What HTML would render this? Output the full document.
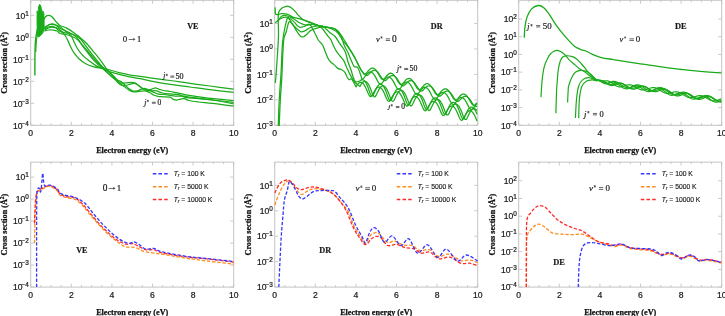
<!DOCTYPE html>
<html><head><meta charset="utf-8"><style>
html,body{margin:0;padding:0;background:#fff;width:725px;height:316px;overflow:hidden}
svg{display:block;will-change:transform}
.tk{font-family:"Liberation Sans",sans-serif;font-size:8.6px;fill:#1a1a1a;stroke:#1a1a1a;stroke-width:0.22px}
.ex{font-size:6.4px}
.ex2{font-size:5.5px}
.al{font-family:"Liberation Serif",serif;font-weight:bold;font-size:8.15px;fill:#111;stroke:#111;stroke-width:0.25px}
.an{font-family:"Liberation Serif",serif;font-size:8.4px;fill:#111}
.anb{font-family:"Liberation Serif",serif;font-weight:bold;font-size:8.8px;fill:#111}
.lg{font-family:"Liberation Sans",sans-serif;font-size:7.6px;fill:#111}
</style></head><body>
<svg width="725" height="316" viewBox="0 0 725 316">
<rect x="30.7" y="0.3" width="203" height="125" fill="none" stroke="#c4c4c4" stroke-width="1"/>
<path d="M30.7 125.3v-3.5M30.7 0.3v3.5M40.85 125.3v-2.0M40.85 0.3v2.0M51 125.3v-2.0M51 0.3v2.0M61.15 125.3v-2.0M61.15 0.3v2.0M71.3 125.3v-3.5M71.3 0.3v3.5M81.45 125.3v-2.0M81.45 0.3v2.0M91.6 125.3v-2.0M91.6 0.3v2.0M101.75 125.3v-2.0M101.75 0.3v2.0M111.9 125.3v-3.5M111.9 0.3v3.5M122.05 125.3v-2.0M122.05 0.3v2.0M132.2 125.3v-2.0M132.2 0.3v2.0M142.35 125.3v-2.0M142.35 0.3v2.0M152.5 125.3v-3.5M152.5 0.3v3.5M162.65 125.3v-2.0M162.65 0.3v2.0M172.8 125.3v-2.0M172.8 0.3v2.0M182.95 125.3v-2.0M182.95 0.3v2.0M193.1 125.3v-3.5M193.1 0.3v3.5M203.25 125.3v-2.0M203.25 0.3v2.0M213.4 125.3v-2.0M213.4 0.3v2.0M223.55 125.3v-2.0M223.55 0.3v2.0M233.7 125.3v-3.5M233.7 0.3v3.5M30.7 125.3h3.5M233.7 125.3h-3.5M30.7 103.3h3.5M233.7 103.3h-3.5M30.7 81.3h3.5M233.7 81.3h-3.5M30.7 59.3h3.5M233.7 59.3h-3.5M30.7 37.3h3.5M233.7 37.3h-3.5M30.7 15.3h3.5M233.7 15.3h-3.5" stroke="#c4c4c4" stroke-width="0.9" fill="none"/>
<text x="30.7" y="135.9" class="tk" text-anchor="middle">0</text>
<text x="71.3" y="135.9" class="tk" text-anchor="middle">2</text>
<text x="111.9" y="135.9" class="tk" text-anchor="middle">4</text>
<text x="152.5" y="135.9" class="tk" text-anchor="middle">6</text>
<text x="193.1" y="135.9" class="tk" text-anchor="middle">8</text>
<text x="233.7" y="135.9" class="tk" text-anchor="middle">10</text>
<text x="28.9" y="128.5" class="tk" text-anchor="end">10<tspan class="ex" dx="-0.9" dy="-3.0">−4</tspan></text>
<text x="28.9" y="106.5" class="tk" text-anchor="end">10<tspan class="ex" dx="-0.9" dy="-3.0">−3</tspan></text>
<text x="28.9" y="84.5" class="tk" text-anchor="end">10<tspan class="ex" dx="-0.9" dy="-3.0">−2</tspan></text>
<text x="28.9" y="62.5" class="tk" text-anchor="end">10<tspan class="ex" dx="-0.9" dy="-3.0">−1</tspan></text>
<text x="28.9" y="40.5" class="tk" text-anchor="end">10<tspan class="ex" dx="0" dy="-3.0">0</tspan></text>
<text x="28.9" y="18.5" class="tk" text-anchor="end">10<tspan class="ex" dx="0" dy="-3.0">1</tspan></text>
<text x="132.2" y="152.9" class="al" text-anchor="middle">Electron energy (eV)</text>
<text transform="translate(6.9 62.8) rotate(-90)" class="al" text-anchor="middle">Cross section (Å<tspan class="ex2" dy="-3">2</tspan><tspan dy="3">)</tspan></text>
<rect x="274.7" y="0.3" width="203" height="125" fill="none" stroke="#c4c4c4" stroke-width="1"/>
<path d="M274.7 125.3v-3.5M274.7 0.3v3.5M284.85 125.3v-2.0M284.85 0.3v2.0M295 125.3v-2.0M295 0.3v2.0M305.15 125.3v-2.0M305.15 0.3v2.0M315.3 125.3v-3.5M315.3 0.3v3.5M325.45 125.3v-2.0M325.45 0.3v2.0M335.6 125.3v-2.0M335.6 0.3v2.0M345.75 125.3v-2.0M345.75 0.3v2.0M355.9 125.3v-3.5M355.9 0.3v3.5M366.05 125.3v-2.0M366.05 0.3v2.0M376.2 125.3v-2.0M376.2 0.3v2.0M386.35 125.3v-2.0M386.35 0.3v2.0M396.5 125.3v-3.5M396.5 0.3v3.5M406.65 125.3v-2.0M406.65 0.3v2.0M416.8 125.3v-2.0M416.8 0.3v2.0M426.95 125.3v-2.0M426.95 0.3v2.0M437.1 125.3v-3.5M437.1 0.3v3.5M447.25 125.3v-2.0M447.25 0.3v2.0M457.4 125.3v-2.0M457.4 0.3v2.0M467.55 125.3v-2.0M467.55 0.3v2.0M477.7 125.3v-3.5M477.7 0.3v3.5M274.7 125.3h3.5M477.7 125.3h-3.5M274.7 99.85h3.5M477.7 99.85h-3.5M274.7 74.4h3.5M477.7 74.4h-3.5M274.7 48.95h3.5M477.7 48.95h-3.5M274.7 23.5h3.5M477.7 23.5h-3.5" stroke="#c4c4c4" stroke-width="0.9" fill="none"/>
<text x="274.7" y="135.9" class="tk" text-anchor="middle">0</text>
<text x="315.3" y="135.9" class="tk" text-anchor="middle">2</text>
<text x="355.9" y="135.9" class="tk" text-anchor="middle">4</text>
<text x="396.5" y="135.9" class="tk" text-anchor="middle">6</text>
<text x="437.1" y="135.9" class="tk" text-anchor="middle">8</text>
<text x="477.7" y="135.9" class="tk" text-anchor="middle">10</text>
<text x="272.9" y="128.5" class="tk" text-anchor="end">10<tspan class="ex" dx="-0.9" dy="-3.0">−3</tspan></text>
<text x="272.9" y="103.05" class="tk" text-anchor="end">10<tspan class="ex" dx="-0.9" dy="-3.0">−2</tspan></text>
<text x="272.9" y="77.6" class="tk" text-anchor="end">10<tspan class="ex" dx="-0.9" dy="-3.0">−1</tspan></text>
<text x="272.9" y="52.15" class="tk" text-anchor="end">10<tspan class="ex" dx="0" dy="-3.0">0</tspan></text>
<text x="272.9" y="26.7" class="tk" text-anchor="end">10<tspan class="ex" dx="0" dy="-3.0">1</tspan></text>
<text x="376.2" y="152.9" class="al" text-anchor="middle">Electron energy (eV)</text>
<text transform="translate(250.9 62.8) rotate(-90)" class="al" text-anchor="middle">Cross section (Å<tspan class="ex2" dy="-3">2</tspan><tspan dy="3">)</tspan></text>
<rect x="518.7" y="0.3" width="203" height="125" fill="none" stroke="#c4c4c4" stroke-width="1"/>
<path d="M518.7 125.3v-3.5M518.7 0.3v3.5M528.85 125.3v-2.0M528.85 0.3v2.0M539 125.3v-2.0M539 0.3v2.0M549.15 125.3v-2.0M549.15 0.3v2.0M559.3 125.3v-3.5M559.3 0.3v3.5M569.45 125.3v-2.0M569.45 0.3v2.0M579.6 125.3v-2.0M579.6 0.3v2.0M589.75 125.3v-2.0M589.75 0.3v2.0M599.9 125.3v-3.5M599.9 0.3v3.5M610.05 125.3v-2.0M610.05 0.3v2.0M620.2 125.3v-2.0M620.2 0.3v2.0M630.35 125.3v-2.0M630.35 0.3v2.0M640.5 125.3v-3.5M640.5 0.3v3.5M650.65 125.3v-2.0M650.65 0.3v2.0M660.8 125.3v-2.0M660.8 0.3v2.0M670.95 125.3v-2.0M670.95 0.3v2.0M681.1 125.3v-3.5M681.1 0.3v3.5M691.25 125.3v-2.0M691.25 0.3v2.0M701.4 125.3v-2.0M701.4 0.3v2.0M711.55 125.3v-2.0M711.55 0.3v2.0M721.7 125.3v-3.5M721.7 0.3v3.5M518.7 125.3h3.5M721.7 125.3h-3.5M518.7 107.58h3.5M721.7 107.58h-3.5M518.7 89.86h3.5M721.7 89.86h-3.5M518.7 72.14h3.5M721.7 72.14h-3.5M518.7 54.42h3.5M721.7 54.42h-3.5M518.7 36.7h3.5M721.7 36.7h-3.5M518.7 18.98h3.5M721.7 18.98h-3.5" stroke="#c4c4c4" stroke-width="0.9" fill="none"/>
<text x="518.7" y="135.9" class="tk" text-anchor="middle">0</text>
<text x="559.3" y="135.9" class="tk" text-anchor="middle">2</text>
<text x="599.9" y="135.9" class="tk" text-anchor="middle">4</text>
<text x="640.5" y="135.9" class="tk" text-anchor="middle">6</text>
<text x="681.1" y="135.9" class="tk" text-anchor="middle">8</text>
<text x="721.7" y="135.9" class="tk" text-anchor="middle">10</text>
<text x="516.9" y="128.5" class="tk" text-anchor="end">10<tspan class="ex" dx="-0.9" dy="-3.0">−4</tspan></text>
<text x="516.9" y="110.78" class="tk" text-anchor="end">10<tspan class="ex" dx="-0.9" dy="-3.0">−3</tspan></text>
<text x="516.9" y="93.06" class="tk" text-anchor="end">10<tspan class="ex" dx="-0.9" dy="-3.0">−2</tspan></text>
<text x="516.9" y="75.34" class="tk" text-anchor="end">10<tspan class="ex" dx="-0.9" dy="-3.0">−1</tspan></text>
<text x="516.9" y="57.62" class="tk" text-anchor="end">10<tspan class="ex" dx="0" dy="-3.0">0</tspan></text>
<text x="516.9" y="39.9" class="tk" text-anchor="end">10<tspan class="ex" dx="0" dy="-3.0">1</tspan></text>
<text x="516.9" y="22.18" class="tk" text-anchor="end">10<tspan class="ex" dx="0" dy="-3.0">2</tspan></text>
<text x="620.2" y="152.9" class="al" text-anchor="middle">Electron energy (eV)</text>
<text transform="translate(494.9 62.8) rotate(-90)" class="al" text-anchor="middle">Cross section (Å<tspan class="ex2" dy="-3">2</tspan><tspan dy="3">)</tspan></text>
<rect x="30.7" y="162.1" width="203" height="125" fill="none" stroke="#c4c4c4" stroke-width="1"/>
<path d="M30.7 287.1v-3.5M30.7 162.1v3.5M40.85 287.1v-2.0M40.85 162.1v2.0M51 287.1v-2.0M51 162.1v2.0M61.15 287.1v-2.0M61.15 162.1v2.0M71.3 287.1v-3.5M71.3 162.1v3.5M81.45 287.1v-2.0M81.45 162.1v2.0M91.6 287.1v-2.0M91.6 162.1v2.0M101.75 287.1v-2.0M101.75 162.1v2.0M111.9 287.1v-3.5M111.9 162.1v3.5M122.05 287.1v-2.0M122.05 162.1v2.0M132.2 287.1v-2.0M132.2 162.1v2.0M142.35 287.1v-2.0M142.35 162.1v2.0M152.5 287.1v-3.5M152.5 162.1v3.5M162.65 287.1v-2.0M162.65 162.1v2.0M172.8 287.1v-2.0M172.8 162.1v2.0M182.95 287.1v-2.0M182.95 162.1v2.0M193.1 287.1v-3.5M193.1 162.1v3.5M203.25 287.1v-2.0M203.25 162.1v2.0M213.4 287.1v-2.0M213.4 162.1v2.0M223.55 287.1v-2.0M223.55 162.1v2.0M233.7 287.1v-3.5M233.7 162.1v3.5M30.7 287.1h3.5M233.7 287.1h-3.5M30.7 265.1h3.5M233.7 265.1h-3.5M30.7 243.1h3.5M233.7 243.1h-3.5M30.7 221.1h3.5M233.7 221.1h-3.5M30.7 199.1h3.5M233.7 199.1h-3.5M30.7 177.1h3.5M233.7 177.1h-3.5" stroke="#c4c4c4" stroke-width="0.9" fill="none"/>
<text x="30.7" y="297.7" class="tk" text-anchor="middle">0</text>
<text x="71.3" y="297.7" class="tk" text-anchor="middle">2</text>
<text x="111.9" y="297.7" class="tk" text-anchor="middle">4</text>
<text x="152.5" y="297.7" class="tk" text-anchor="middle">6</text>
<text x="193.1" y="297.7" class="tk" text-anchor="middle">8</text>
<text x="233.7" y="297.7" class="tk" text-anchor="middle">10</text>
<text x="28.9" y="290.3" class="tk" text-anchor="end">10<tspan class="ex" dx="-0.9" dy="-3.0">−4</tspan></text>
<text x="28.9" y="268.3" class="tk" text-anchor="end">10<tspan class="ex" dx="-0.9" dy="-3.0">−3</tspan></text>
<text x="28.9" y="246.3" class="tk" text-anchor="end">10<tspan class="ex" dx="-0.9" dy="-3.0">−2</tspan></text>
<text x="28.9" y="224.3" class="tk" text-anchor="end">10<tspan class="ex" dx="-0.9" dy="-3.0">−1</tspan></text>
<text x="28.9" y="202.3" class="tk" text-anchor="end">10<tspan class="ex" dx="0" dy="-3.0">0</tspan></text>
<text x="28.9" y="180.3" class="tk" text-anchor="end">10<tspan class="ex" dx="0" dy="-3.0">1</tspan></text>
<text x="132.2" y="314.7" class="al" text-anchor="middle">Electron energy (eV)</text>
<text transform="translate(6.9 224.6) rotate(-90)" class="al" text-anchor="middle">Cross section (Å<tspan class="ex2" dy="-3">2</tspan><tspan dy="3">)</tspan></text>
<rect x="274.7" y="162.1" width="203" height="125" fill="none" stroke="#c4c4c4" stroke-width="1"/>
<path d="M274.7 287.1v-3.5M274.7 162.1v3.5M284.85 287.1v-2.0M284.85 162.1v2.0M295 287.1v-2.0M295 162.1v2.0M305.15 287.1v-2.0M305.15 162.1v2.0M315.3 287.1v-3.5M315.3 162.1v3.5M325.45 287.1v-2.0M325.45 162.1v2.0M335.6 287.1v-2.0M335.6 162.1v2.0M345.75 287.1v-2.0M345.75 162.1v2.0M355.9 287.1v-3.5M355.9 162.1v3.5M366.05 287.1v-2.0M366.05 162.1v2.0M376.2 287.1v-2.0M376.2 162.1v2.0M386.35 287.1v-2.0M386.35 162.1v2.0M396.5 287.1v-3.5M396.5 162.1v3.5M406.65 287.1v-2.0M406.65 162.1v2.0M416.8 287.1v-2.0M416.8 162.1v2.0M426.95 287.1v-2.0M426.95 162.1v2.0M437.1 287.1v-3.5M437.1 162.1v3.5M447.25 287.1v-2.0M447.25 162.1v2.0M457.4 287.1v-2.0M457.4 162.1v2.0M467.55 287.1v-2.0M467.55 162.1v2.0M477.7 287.1v-3.5M477.7 162.1v3.5M274.7 287.1h3.5M477.7 287.1h-3.5M274.7 261.65h3.5M477.7 261.65h-3.5M274.7 236.2h3.5M477.7 236.2h-3.5M274.7 210.75h3.5M477.7 210.75h-3.5M274.7 185.3h3.5M477.7 185.3h-3.5" stroke="#c4c4c4" stroke-width="0.9" fill="none"/>
<text x="274.7" y="297.7" class="tk" text-anchor="middle">0</text>
<text x="315.3" y="297.7" class="tk" text-anchor="middle">2</text>
<text x="355.9" y="297.7" class="tk" text-anchor="middle">4</text>
<text x="396.5" y="297.7" class="tk" text-anchor="middle">6</text>
<text x="437.1" y="297.7" class="tk" text-anchor="middle">8</text>
<text x="477.7" y="297.7" class="tk" text-anchor="middle">10</text>
<text x="272.9" y="290.3" class="tk" text-anchor="end">10<tspan class="ex" dx="-0.9" dy="-3.0">−3</tspan></text>
<text x="272.9" y="264.85" class="tk" text-anchor="end">10<tspan class="ex" dx="-0.9" dy="-3.0">−2</tspan></text>
<text x="272.9" y="239.4" class="tk" text-anchor="end">10<tspan class="ex" dx="-0.9" dy="-3.0">−1</tspan></text>
<text x="272.9" y="213.95" class="tk" text-anchor="end">10<tspan class="ex" dx="0" dy="-3.0">0</tspan></text>
<text x="272.9" y="188.5" class="tk" text-anchor="end">10<tspan class="ex" dx="0" dy="-3.0">1</tspan></text>
<text x="376.2" y="314.7" class="al" text-anchor="middle">Electron energy (eV)</text>
<text transform="translate(250.9 224.6) rotate(-90)" class="al" text-anchor="middle">Cross section (Å<tspan class="ex2" dy="-3">2</tspan><tspan dy="3">)</tspan></text>
<rect x="518.7" y="162.1" width="203" height="125" fill="none" stroke="#c4c4c4" stroke-width="1"/>
<path d="M518.7 287.1v-3.5M518.7 162.1v3.5M528.85 287.1v-2.0M528.85 162.1v2.0M539 287.1v-2.0M539 162.1v2.0M549.15 287.1v-2.0M549.15 162.1v2.0M559.3 287.1v-3.5M559.3 162.1v3.5M569.45 287.1v-2.0M569.45 162.1v2.0M579.6 287.1v-2.0M579.6 162.1v2.0M589.75 287.1v-2.0M589.75 162.1v2.0M599.9 287.1v-3.5M599.9 162.1v3.5M610.05 287.1v-2.0M610.05 162.1v2.0M620.2 287.1v-2.0M620.2 162.1v2.0M630.35 287.1v-2.0M630.35 162.1v2.0M640.5 287.1v-3.5M640.5 162.1v3.5M650.65 287.1v-2.0M650.65 162.1v2.0M660.8 287.1v-2.0M660.8 162.1v2.0M670.95 287.1v-2.0M670.95 162.1v2.0M681.1 287.1v-3.5M681.1 162.1v3.5M691.25 287.1v-2.0M691.25 162.1v2.0M701.4 287.1v-2.0M701.4 162.1v2.0M711.55 287.1v-2.0M711.55 162.1v2.0M721.7 287.1v-3.5M721.7 162.1v3.5M518.7 287.1h3.5M721.7 287.1h-3.5M518.7 269.38h3.5M721.7 269.38h-3.5M518.7 251.66h3.5M721.7 251.66h-3.5M518.7 233.94h3.5M721.7 233.94h-3.5M518.7 216.22h3.5M721.7 216.22h-3.5M518.7 198.5h3.5M721.7 198.5h-3.5M518.7 180.78h3.5M721.7 180.78h-3.5" stroke="#c4c4c4" stroke-width="0.9" fill="none"/>
<text x="518.7" y="297.7" class="tk" text-anchor="middle">0</text>
<text x="559.3" y="297.7" class="tk" text-anchor="middle">2</text>
<text x="599.9" y="297.7" class="tk" text-anchor="middle">4</text>
<text x="640.5" y="297.7" class="tk" text-anchor="middle">6</text>
<text x="681.1" y="297.7" class="tk" text-anchor="middle">8</text>
<text x="721.7" y="297.7" class="tk" text-anchor="middle">10</text>
<text x="516.9" y="290.3" class="tk" text-anchor="end">10<tspan class="ex" dx="-0.9" dy="-3.0">−4</tspan></text>
<text x="516.9" y="272.58" class="tk" text-anchor="end">10<tspan class="ex" dx="-0.9" dy="-3.0">−3</tspan></text>
<text x="516.9" y="254.86" class="tk" text-anchor="end">10<tspan class="ex" dx="-0.9" dy="-3.0">−2</tspan></text>
<text x="516.9" y="237.14" class="tk" text-anchor="end">10<tspan class="ex" dx="-0.9" dy="-3.0">−1</tspan></text>
<text x="516.9" y="219.42" class="tk" text-anchor="end">10<tspan class="ex" dx="0" dy="-3.0">0</tspan></text>
<text x="516.9" y="201.7" class="tk" text-anchor="end">10<tspan class="ex" dx="0" dy="-3.0">1</tspan></text>
<text x="516.9" y="183.98" class="tk" text-anchor="end">10<tspan class="ex" dx="0" dy="-3.0">2</tspan></text>
<text x="620.2" y="314.7" class="al" text-anchor="middle">Electron energy (eV)</text>
<text transform="translate(494.9 224.6) rotate(-90)" class="al" text-anchor="middle">Cross section (Å<tspan class="ex2" dy="-3">2</tspan><tspan dy="3">)</tspan></text>
<path d="M37.2 33.0L37.0 20.0L37.1 11.0L37.9 13.5L38.6 6.5L39.7 4.2L40.7 5.8L41.4 8.5L42.4 12.2L43.5 11.6L43.9 14.2L44.1 20.0L44.2 28.0L43.6 31.6L41.6 34.5L39.6 36.5L38.2 37.0Z" fill="#1aab1a" stroke="#1aab1a" stroke-width="0.9"/>
<path d="M34.9 75.5C34.9 73.2 34.9 65.9 34.9 62.0C34.9 58.1 34.9 55.3 35.0 52.0C35.1 48.7 35.2 44.8 35.4 42.0C35.6 39.2 35.9 37.2 36.3 35.0C36.6 32.8 37.3 30.0 37.5 29.0" fill="none" stroke="#1aab1a" stroke-width="1.4" stroke-linejoin="round"/>
<path d="M35.8 52.0C35.9 50.3 36.1 44.7 36.3 42.0C36.5 39.3 36.8 37.8 37.2 36.0C37.6 34.2 38.3 31.8 38.5 31.0" fill="none" stroke="#1aab1a" stroke-width="1.1" stroke-linejoin="round"/>
<path d="M44.0 19.5C44.3 19.0 45.0 17.2 45.7 16.5C46.5 15.8 47.5 15.3 48.5 15.3C49.5 15.3 50.4 15.6 51.4 16.3C52.4 17.0 53.2 18.2 54.2 19.3C55.2 20.4 56.2 22.0 57.2 23.0C58.2 24.0 58.5 24.7 60.0 25.5C61.5 26.3 64.2 26.8 66.3 27.9C68.4 29.0 70.6 30.4 72.7 31.9C74.8 33.4 76.6 34.6 79.0 36.6C81.4 38.6 84.3 40.9 86.9 43.7C89.5 46.5 92.4 50.3 94.8 53.2C97.2 56.1 99.0 58.3 101.1 61.1C103.2 63.9 105.3 67.3 107.5 70.0C109.7 72.7 112.1 75.0 114.2 77.2C116.3 79.4 118.3 81.8 120.0 83.4C121.7 85.0 123.1 85.7 124.6 86.8C126.1 87.9 127.6 89.3 129.1 90.2C130.6 91.1 132.0 91.7 133.7 91.9C135.4 92.1 137.5 91.6 139.4 91.4C141.3 91.2 143.4 90.6 145.1 90.8C146.8 91.0 148.1 91.8 149.6 92.5C151.1 93.2 152.7 94.6 154.2 95.3C155.7 96.0 157.2 96.2 158.7 96.5C160.2 96.8 161.4 96.7 163.3 96.8C165.2 96.9 168.4 96.8 170.0 97.2C171.6 97.6 171.7 98.6 172.8 99.1C173.9 99.6 175.3 100.0 176.6 100.0C177.9 100.0 179.1 99.3 180.4 99.1C181.7 98.9 182.8 98.4 184.2 98.6C185.6 98.8 186.6 99.9 189.0 100.5C191.4 101.1 194.6 101.5 198.5 102.0C202.4 102.5 206.8 102.7 212.7 103.4C218.5 104.1 230.1 105.7 233.6 106.2" fill="none" stroke="#1aab1a" stroke-width="1.25" stroke-linejoin="round"/>
<path d="M44.5 28.0C45.2 27.5 47.4 25.7 48.5 25.0C49.6 24.3 50.3 24.1 51.4 24.0C52.5 23.9 53.5 23.8 54.9 24.5C56.3 25.2 58.1 27.1 60.0 28.2C61.9 29.3 64.0 30.0 66.0 31.0C68.0 32.0 70.4 33.2 72.0 34.0C73.6 34.8 74.4 34.7 75.8 35.5C77.2 36.3 79.0 37.4 80.6 39.0C82.2 40.6 83.7 43.2 85.3 45.3C86.9 47.4 88.2 49.2 90.1 51.6C91.9 54.0 94.3 57.0 96.4 59.6C98.5 62.2 100.8 65.3 102.7 67.5C104.6 69.7 106.1 71.2 108.0 73.0C109.9 74.8 112.0 77.2 114.0 78.5C116.0 79.8 118.4 80.3 120.0 81.1C121.6 81.9 122.1 82.3 123.4 83.4C124.7 84.5 126.5 86.7 128.0 87.9C129.5 89.1 131.0 90.3 132.5 90.8C134.0 91.3 135.6 91.1 137.1 90.8C138.6 90.5 140.3 89.5 141.6 89.1C142.9 88.7 143.8 88.3 145.1 88.5C146.4 88.7 148.1 89.5 149.6 90.2C151.1 90.9 152.7 91.8 154.2 92.5C155.7 93.2 157.2 93.9 158.7 94.2C160.2 94.5 161.4 94.3 163.3 94.5C165.2 94.7 167.6 95.0 170.0 95.3C172.4 95.6 175.2 96.0 177.6 96.2C180.0 96.4 181.5 96.0 184.2 96.2C186.9 96.5 188.9 97.1 193.7 97.7C198.4 98.3 206.0 99.0 212.7 100.0C219.3 101.0 230.1 103.2 233.6 103.8" fill="none" stroke="#1aab1a" stroke-width="1.25" stroke-linejoin="round"/>
<path d="M44.5 30.0C45.2 29.7 47.2 28.5 48.5 28.0C49.8 27.5 50.8 27.0 52.0 27.0C53.2 27.0 54.7 27.3 56.0 28.0C57.3 28.7 58.3 30.6 60.0 31.4C61.7 32.2 63.9 32.5 66.0 33.0C68.1 33.5 70.8 33.6 72.7 34.5C74.6 35.4 75.8 36.4 77.4 38.2C79.0 40.0 80.6 43.1 82.2 45.3C83.8 47.5 85.1 49.2 86.9 51.6C88.7 54.0 91.1 57.2 93.2 59.6C95.3 62.0 97.8 64.2 99.6 65.9C101.4 67.6 102.6 68.5 104.3 70.0C106.0 71.5 108.2 73.4 110.0 75.0C111.8 76.6 113.3 77.9 115.0 79.5C116.7 81.1 118.4 83.5 120.0 84.5C121.6 85.5 123.1 85.7 124.6 85.7C126.1 85.7 127.6 84.9 129.1 84.5C130.6 84.1 132.4 83.4 133.7 83.4C135.0 83.4 135.8 83.8 137.1 84.5C138.4 85.2 140.1 87.0 141.6 87.9C143.1 88.9 144.7 89.7 146.2 90.2C147.7 90.7 149.1 90.7 150.8 90.8C152.5 90.9 154.7 90.5 156.4 90.8C158.1 91.1 159.5 92.0 161.0 92.5C162.5 93.0 164.1 93.4 165.6 93.6C167.1 93.8 167.7 93.7 170.0 93.9C172.3 94.1 176.8 94.2 179.5 94.8C182.2 95.4 182.9 97.1 186.1 97.7C189.3 98.3 193.3 98.1 198.5 98.6C203.7 99.1 211.7 99.9 217.5 100.5C223.3 101.1 230.9 102.1 233.6 102.4" fill="none" stroke="#1aab1a" stroke-width="1.25" stroke-linejoin="round"/>
<path d="M44.5 31.0C45.2 30.8 47.1 30.2 48.5 30.0C49.9 29.8 51.4 29.8 52.8 30.0C54.2 30.2 55.9 30.4 57.1 31.0C58.3 31.6 58.5 32.9 60.0 33.5C61.5 34.1 64.0 34.0 66.0 34.5C68.0 35.0 70.0 35.6 72.0 36.5C74.0 37.4 76.0 38.2 78.0 40.0C80.0 41.8 82.0 44.7 84.0 47.0C86.0 49.3 88.0 51.7 90.0 54.0C92.0 56.3 94.0 58.9 96.0 61.0C98.0 63.1 100.0 64.8 102.0 66.5C104.0 68.2 106.0 69.3 108.0 71.0C110.0 72.7 112.0 74.5 114.0 76.5C116.0 78.5 118.0 81.8 120.0 82.8C122.0 83.8 123.8 82.9 125.7 82.8C127.6 82.7 129.9 82.3 131.4 82.3C132.9 82.3 133.7 82.3 134.8 82.8C135.9 83.3 136.9 84.1 138.2 85.1C139.5 86.0 141.3 87.7 142.8 88.5C144.3 89.3 145.8 90.1 147.3 90.2C148.8 90.3 150.6 89.5 151.9 89.1C153.2 88.7 154.2 87.9 155.3 87.9C156.4 87.9 157.4 88.7 158.7 89.1C160.0 89.5 161.4 90.1 163.3 90.5C165.2 90.9 167.3 91.0 170.0 91.5C172.7 92.0 176.3 92.8 179.5 93.4C182.7 94.0 184.2 94.5 189.0 95.3C193.8 96.1 200.6 97.2 208.0 98.1C215.4 99.0 229.3 100.1 233.6 100.5" fill="none" stroke="#1aab1a" stroke-width="1.25" stroke-linejoin="round"/>
<path d="M44.5 27.5C45.4 27.0 48.1 24.9 50.0 24.5C51.9 24.1 54.3 24.6 56.0 25.0C57.7 25.4 58.3 25.7 60.0 26.8C61.7 27.9 64.5 30.4 66.3 31.9C68.1 33.4 69.8 34.1 71.1 35.8C72.4 37.5 73.2 40.1 74.2 42.2C75.2 44.3 76.1 46.4 77.4 48.5C78.7 50.6 80.4 52.8 82.2 54.8C84.0 56.8 86.1 58.4 88.5 60.3C90.9 62.1 93.8 64.4 96.4 65.9C99.0 67.4 102.1 68.1 104.3 69.1C106.5 70.0 107.0 70.7 109.5 71.6C112.0 72.5 115.3 73.4 119.0 74.3C122.7 75.2 128.1 76.5 131.6 77.2C135.1 77.9 136.9 78.1 140.0 78.7C143.1 79.3 145.0 79.9 150.0 80.8C155.0 81.7 163.3 83.3 170.0 84.3C176.7 85.3 183.3 86.1 190.0 87.0C196.7 87.9 202.7 88.8 210.0 89.7C217.3 90.6 229.7 92.0 233.6 92.4" fill="none" stroke="#1aab1a" stroke-width="1.25" stroke-linejoin="round"/>
<path d="M44.5 29.0C45.4 28.6 48.1 26.8 50.0 26.5C51.9 26.2 54.3 26.9 56.0 27.5C57.7 28.1 58.5 28.6 60.0 29.8C61.5 31.1 63.4 33.2 64.7 35.0C66.0 36.8 66.8 38.5 67.9 40.6C69.0 42.7 70.0 45.6 71.1 47.7C72.1 49.8 72.9 51.4 74.2 53.2C75.5 55.1 77.2 57.1 79.0 58.8C80.8 60.5 82.9 62.2 85.3 63.5C87.7 64.8 90.6 65.9 93.2 66.7C95.8 67.5 98.3 67.8 101.1 68.3C103.9 68.8 107.0 69.3 110.0 70.0C113.0 70.7 115.4 71.8 119.0 72.7C122.6 73.6 128.1 74.7 131.6 75.3C135.1 75.9 136.9 75.9 140.0 76.3C143.1 76.7 145.0 77.2 150.0 77.9C155.0 78.6 163.3 79.6 170.0 80.5C176.7 81.4 183.3 82.5 190.0 83.4C196.7 84.3 202.7 85.0 210.0 86.0C217.3 87.0 229.7 88.7 233.6 89.2" fill="none" stroke="#1aab1a" stroke-width="1.25" stroke-linejoin="round"/>
<path d="M275.4 83.0C275.7 79.2 276.6 67.8 277.1 60.0C277.6 52.2 278.3 42.7 278.5 36.0C278.7 29.3 278.2 23.9 278.2 20.0C278.2 16.1 278.1 14.4 278.6 12.5C279.1 10.6 280.4 9.4 281.4 8.5C282.4 7.5 283.7 7.2 284.8 6.8C285.9 6.4 287.1 6.1 288.2 6.3C289.3 6.5 290.5 7.2 291.6 8.0C292.8 8.8 294.0 10.2 295.1 11.4C296.2 12.6 297.5 14.3 298.5 15.4C299.5 16.5 300.0 17.2 301.0 18.0C302.0 18.8 302.8 19.5 304.4 20.3C306.0 21.1 308.4 22.0 310.7 22.8C313.0 23.6 315.6 24.6 318.3 25.3C321.1 26.0 324.6 26.7 327.2 27.2C329.8 27.7 331.9 27.4 334.0 28.5C336.1 29.6 338.2 31.8 340.1 34.0C342.0 36.2 343.7 39.3 345.2 41.6C346.7 43.9 347.6 45.7 349.0 47.9C350.4 50.1 352.1 52.6 353.4 55.0C354.7 57.4 355.9 59.8 357.0 62.0C358.1 64.2 358.8 66.0 360.0 68.0C361.2 70.0 363.3 73.1 364.0 74.1L364.0 74.1L365.0 74.1L366.0 73.5L367.0 72.4L368.0 71.2L369.0 70.1L370.0 69.1L371.0 68.4L372.0 68.1L373.0 68.1L374.0 68.4L375.0 69.1L376.0 70.2L377.0 71.6L378.0 73.2L379.0 75.0L380.0 76.7L381.0 78.2L382.0 79.2L383.0 79.4L384.0 78.9L385.0 77.9L386.0 76.7L387.0 75.5L388.0 74.5L389.0 73.7L390.0 73.3L391.0 73.2L392.0 73.5L393.0 74.2L394.0 75.1L395.0 76.5L396.0 78.0L397.0 79.8L398.0 81.6L399.0 83.1L400.0 84.2L401.0 84.6L402.0 84.2L403.0 83.3L404.0 82.1L405.0 80.9L406.0 79.8L407.0 79.0L408.0 78.6L409.0 78.4L410.0 78.6L411.0 79.2L412.0 80.1L413.0 81.4L414.0 82.9L415.0 84.6L416.0 86.4L417.0 88.0L418.0 89.2L419.0 89.7L420.0 89.5L421.0 88.7L422.0 87.5L423.0 86.3L424.0 85.2L425.0 84.4L426.0 83.8L427.0 83.6L428.0 83.7L429.0 84.2L430.0 85.1L431.0 86.3L432.0 87.7L433.0 89.4L434.0 91.2L435.0 92.9L436.0 94.2L437.0 94.9L438.0 94.8L439.0 94.1L440.0 92.9L441.0 91.7L442.0 90.6L443.0 89.7L444.0 89.1L445.0 88.8L446.0 88.9L447.0 89.3L448.0 90.1L449.0 91.2L450.0 92.6L451.0 94.3L452.0 96.1L453.0 97.8L454.0 99.2L455.0 100.0L456.0 100.1L457.0 99.4L458.0 98.4L459.0 97.2L460.0 96.0L461.0 95.0L462.0 94.4L463.0 94.0L464.0 94.0L465.0 94.4L466.0 95.1L467.0 96.1L468.0 97.5L469.0 99.1L470.0 100.9L471.0 102.7L472.0 104.1L473.0 105.1L474.0 105.3L475.0 104.8L476.0 103.8L477.0 102.6" fill="none" stroke="#1aab1a" stroke-width="1.25" stroke-linejoin="round"/>
<path d="M278.3 126.0C278.4 122.8 278.6 112.8 278.9 107.0C279.1 101.2 279.4 97.2 279.8 91.0C280.2 84.8 280.8 77.5 281.2 70.0C281.6 62.5 281.9 51.7 282.3 46.0C282.7 40.3 282.9 39.5 283.4 36.0C283.9 32.5 284.8 27.9 285.4 25.3C285.9 22.7 286.3 21.6 286.7 20.3C287.1 19.0 287.1 17.3 287.9 17.7C288.7 18.1 290.4 20.9 291.7 22.8C293.0 24.7 294.3 27.2 295.5 29.1C296.7 31.0 297.8 32.9 298.7 34.2C299.6 35.5 300.4 36.3 301.2 36.7C302.0 37.1 302.8 37.1 303.7 36.7C304.6 36.3 305.7 35.2 306.9 34.2C308.1 33.2 309.2 31.3 310.7 30.4C312.2 29.4 313.9 29.0 315.8 28.5C317.7 28.0 319.7 27.3 322.1 27.2C324.5 27.1 327.8 27.4 330.0 27.7C332.2 28.0 333.4 27.8 335.1 28.9C336.8 29.9 338.6 31.3 340.1 34.0C341.6 36.7 342.8 41.9 344.1 45.0C345.4 48.1 346.6 49.9 347.9 52.6C349.2 55.4 350.6 59.2 351.7 61.5C352.8 63.8 353.1 65.4 354.2 66.5C355.2 67.6 356.7 65.9 358.0 68.0C359.3 70.1 361.3 77.2 362.0 79.1L362.0 79.1L363.0 78.8L364.0 77.9L365.0 76.5L366.0 75.1L367.0 73.9L368.0 72.9L369.0 72.2L370.0 71.9L371.0 72.0L372.0 72.5L373.0 73.3L374.0 74.6L375.0 76.1L376.0 77.9L377.0 79.9L378.0 81.8L379.0 83.3L380.0 84.1L381.0 84.0L382.0 83.2L383.0 81.9L384.0 80.5L385.0 79.2L386.0 78.1L387.0 77.4L388.0 77.1L389.0 77.1L390.0 77.5L391.0 78.2L392.0 79.4L393.0 80.9L394.0 82.6L395.0 84.6L396.0 86.5L397.0 88.2L398.0 89.1L399.0 89.2L400.0 88.5L401.0 87.3L402.0 85.9L403.0 84.5L404.0 83.4L405.0 82.6L406.0 82.2L407.0 82.1L408.0 82.4L409.0 83.1L410.0 84.2L411.0 85.6L412.0 87.4L413.0 89.3L414.0 91.3L415.0 93.0L416.0 94.1L417.0 94.4L418.0 93.8L419.0 92.7L420.0 91.3L421.0 89.9L422.0 88.7L423.0 87.9L424.0 87.3L425.0 87.2L426.0 87.5L427.0 88.1L428.0 89.1L429.0 90.4L430.0 92.1L431.0 94.0L432.0 96.0L433.0 97.8L434.0 99.0L435.0 99.5L436.0 99.1L437.0 98.0L438.0 96.6L439.0 95.2L440.0 94.0L441.0 93.1L442.0 92.5L443.0 92.3L444.0 92.5L445.0 93.0L446.0 93.9L447.0 95.2L448.0 96.8L449.0 98.7L450.0 100.7L451.0 102.5L452.0 103.9L453.0 104.6L454.0 104.3L455.0 103.4L456.0 102.0L457.0 100.6L458.0 99.3L459.0 98.4L460.0 97.7L461.0 97.4L462.0 97.5L463.0 98.0L464.0 98.8L465.0 100.0L466.0 101.6L467.0 103.4L468.0 105.4L469.0 107.3L470.0 108.8L471.0 109.6L472.0 109.5L473.0 108.7L474.0 107.4L475.0 106.0L476.0 104.7L477.0 103.6" fill="none" stroke="#1aab1a" stroke-width="1.25" stroke-linejoin="round"/>
<path d="M279.2 126.0C279.4 121.7 279.9 107.7 280.3 100.0C280.7 92.3 281.2 88.3 281.7 80.0C282.1 71.7 282.6 57.0 283.0 50.0C283.4 43.0 283.5 41.0 284.0 38.0C284.5 35.0 285.4 34.7 286.2 32.0C287.0 29.3 287.9 23.2 289.0 22.0C290.1 20.8 291.7 23.8 293.0 25.0C294.3 26.2 295.7 27.9 297.0 29.0C298.3 30.1 299.7 31.5 301.0 31.8C302.3 32.1 303.7 31.4 305.0 30.8C306.3 30.2 307.5 29.0 309.0 28.3C310.5 27.6 311.8 26.9 314.0 26.5C316.2 26.1 319.3 25.0 322.0 26.0C324.7 27.0 327.8 31.0 330.0 32.7C332.2 34.5 333.4 34.6 335.1 36.5C336.8 38.4 338.4 41.6 340.1 44.1C341.8 46.6 343.9 48.8 345.2 51.7C346.5 54.6 346.9 58.4 347.9 61.5C348.9 64.6 350.2 67.8 351.1 70.3C352.0 72.8 352.3 74.7 353.0 76.6C353.7 78.5 354.3 81.0 355.5 81.7C356.7 82.4 359.2 81.0 360.0 80.9L360.0 80.9L361.0 80.0L362.0 79.7L363.0 79.8L364.0 80.3L365.0 81.4L366.0 82.9L367.0 85.0L368.0 87.4L369.0 90.2L370.0 93.0L371.0 95.2L372.0 96.1L373.0 95.4L374.0 93.5L375.0 91.2L376.0 88.9L377.0 87.1L378.0 85.6L379.0 84.7L380.0 84.2L381.0 84.2L382.0 84.7L383.0 85.7L384.0 87.1L385.0 89.1L386.0 91.4L387.0 94.2L388.0 97.0L389.0 99.4L390.0 100.6L391.0 100.2L392.0 98.5L393.0 96.2L394.0 93.9L395.0 92.0L396.0 90.4L397.0 89.4L398.0 88.8L399.0 88.8L400.0 89.2L401.0 90.0L402.0 91.4L403.0 93.2L404.0 95.5L405.0 98.1L406.0 101.0L407.0 103.5L408.0 105.0L409.0 104.9L410.0 103.4L411.0 101.2L412.0 98.9L413.0 96.9L414.0 95.3L415.0 94.1L416.0 93.5L417.0 93.3L418.0 93.6L419.0 94.4L420.0 95.6L421.0 97.3L422.0 99.5L423.0 102.1L424.0 105.0L425.0 107.6L426.0 109.4L427.0 109.6L428.0 108.3L429.0 106.2L430.0 103.9L431.0 101.8L432.0 100.1L433.0 98.9L434.0 98.1L435.0 97.8L436.0 98.0L437.0 98.7L438.0 99.9L439.0 101.5L440.0 103.6L441.0 106.1L442.0 108.9L443.0 111.7L444.0 113.7L445.0 114.2L446.0 113.2L447.0 111.2L448.0 108.9L449.0 106.7L450.0 104.9L451.0 103.6L452.0 102.8L453.0 102.4L454.0 102.5L455.0 103.1L456.0 104.2L457.0 105.7L458.0 107.7L459.0 110.2L460.0 112.9L461.0 115.7L462.0 117.9L463.0 118.8L464.0 118.1L465.0 116.2L466.0 113.9L467.0 111.7L468.0 109.8L469.0 108.4L470.0 107.5L471.0 107.0L472.0 107.0L473.0 107.5L474.0 108.5L475.0 109.9L476.0 111.8L477.0 114.2" fill="none" stroke="#1aab1a" stroke-width="1.25" stroke-linejoin="round"/>
<path d="M275.1 7.4C275.2 8.5 275.0 13.1 275.7 14.2C276.4 15.3 278.2 14.3 279.1 14.2C280.1 14.1 280.1 13.7 281.4 13.7C282.7 13.7 285.2 13.6 287.1 14.2C289.0 14.8 290.7 16.3 292.8 17.1C294.9 17.9 297.1 18.0 300.0 18.8C302.9 19.6 306.5 20.6 310.0 22.0C313.5 23.4 318.4 25.6 320.8 27.2C323.2 28.8 323.3 30.0 324.6 31.6C325.9 33.2 327.3 35.3 328.4 36.7C329.5 38.1 330.1 38.4 331.0 40.0C331.9 41.6 332.9 44.7 333.8 46.6C334.7 48.5 335.4 49.7 336.5 51.3C337.6 52.9 339.1 54.9 340.3 56.4C341.5 57.9 342.4 58.4 343.5 60.2C344.6 62.0 345.6 64.9 346.6 67.2C347.7 69.5 348.7 72.0 349.8 74.1C350.9 76.2 352.1 78.3 353.0 79.8C353.9 81.3 354.3 81.9 355.5 83.0C356.7 84.1 359.2 85.8 360.0 86.4L360.0 86.4L361.0 84.5L362.0 83.0L363.0 82.0L364.0 81.4L365.0 81.3L366.0 81.6L367.0 82.4L368.0 83.7L369.0 85.4L370.0 87.6L371.0 90.1L372.0 92.8L373.0 95.2L374.0 96.7L375.0 96.8L376.0 95.5L377.0 93.5L378.0 91.4L379.0 89.4L380.0 87.8L381.0 86.7L382.0 86.0L383.0 85.8L384.0 86.1L385.0 86.8L386.0 87.9L387.0 89.6L388.0 91.7L389.0 94.1L390.0 96.8L391.0 99.3L392.0 101.0L393.0 101.4L394.0 100.4L395.0 98.5L396.0 96.3L397.0 94.3L398.0 92.7L399.0 91.4L400.0 90.7L401.0 90.4L402.0 90.5L403.0 91.1L404.0 92.2L405.0 93.8L406.0 95.8L407.0 98.2L408.0 100.8L409.0 103.4L410.0 105.3L411.0 106.0L412.0 105.3L413.0 103.5L414.0 101.3L415.0 99.3L416.0 97.5L417.0 96.2L418.0 95.3L419.0 94.9L420.0 95.0L421.0 95.5L422.0 96.5L423.0 98.0L424.0 99.9L425.0 102.2L426.0 104.8L427.0 107.4L428.0 109.6L429.0 110.6L430.0 110.1L431.0 108.4L432.0 106.3L433.0 104.2L434.0 102.4L435.0 101.0L436.0 100.0L437.0 99.5L438.0 99.5L439.0 99.9L440.0 100.8L441.0 102.2L442.0 104.0L443.0 106.3L444.0 108.8L445.0 111.5L446.0 113.8L447.0 115.0L448.0 114.8L449.0 113.4L450.0 111.3L451.0 109.2L452.0 107.3L453.0 105.8L454.0 104.7L455.0 104.1L456.0 104.0L457.0 104.4L458.0 105.2L459.0 106.4L460.0 108.2L461.0 110.3L462.0 112.8L463.0 115.5L464.0 117.9L465.0 119.4L466.0 119.5L467.0 118.3L468.0 116.3L469.0 114.1L470.0 112.2L471.0 110.6L472.0 109.4L473.0 108.8L474.0 108.6L475.0 108.8L476.0 109.5L477.0 110.7" fill="none" stroke="#1aab1a" stroke-width="1.25" stroke-linejoin="round"/>
<path d="M275.1 22.8C275.4 22.6 275.8 22.4 276.8 21.6C277.9 20.8 279.9 18.9 281.4 18.2C282.9 17.4 284.6 17.1 285.9 17.1C287.2 17.1 288.1 17.4 289.4 18.2C290.7 18.9 292.6 20.4 293.9 21.6C295.2 22.8 296.3 24.7 297.3 25.6C298.3 26.6 298.9 27.2 300.0 27.3C301.1 27.4 302.4 27.0 304.0 26.5C305.6 26.0 308.1 23.9 309.4 24.1C310.7 24.3 311.1 26.2 312.0 27.8C312.9 29.4 314.1 31.5 315.1 33.5C316.2 35.5 317.1 38.1 318.3 40.0C319.6 41.9 321.5 43.1 322.6 45.0C323.7 46.9 324.2 49.2 325.1 51.3C326.0 53.4 326.9 56.0 327.7 57.7C328.5 59.4 329.1 60.4 330.2 61.5C331.2 62.6 332.7 63.4 334.0 64.6C335.3 65.8 336.5 67.6 337.8 68.4C339.1 69.2 340.5 69.1 341.6 69.7C342.8 70.3 343.8 70.9 344.7 72.2C345.6 73.5 346.6 76.0 347.3 77.3C348.1 78.6 348.5 79.5 349.2 79.8C349.9 80.1 350.6 78.0 351.7 79.2C352.8 80.4 355.3 85.6 356.0 86.9L356.0 86.9L357.0 85.2L358.0 83.9L359.0 82.9L360.0 82.4L361.0 82.3L362.0 82.7L363.0 83.4L364.0 84.7L365.0 86.3L366.0 88.3L367.0 90.6L368.0 93.0L369.0 95.1L370.0 96.5L371.0 96.6L372.0 95.6L373.0 93.9L374.0 92.0L375.0 90.3L376.0 88.8L377.0 87.8L378.0 87.2L379.0 87.0L380.0 87.3L381.0 88.0L382.0 89.1L383.0 90.7L384.0 92.6L385.0 94.9L386.0 97.3L387.0 99.5L388.0 101.0L389.0 101.4L390.0 100.6L391.0 99.0L392.0 97.1L393.0 95.3L394.0 93.8L395.0 92.7L396.0 92.0L397.0 91.8L398.0 91.9L399.0 92.5L400.0 93.6L401.0 95.1L402.0 96.9L403.0 99.1L404.0 101.5L405.0 103.8L406.0 105.5L407.0 106.2L408.0 105.6L409.0 104.1L410.0 102.2L411.0 100.4L412.0 98.8L413.0 97.6L414.0 96.9L415.0 96.5L416.0 96.6L417.0 97.1L418.0 98.1L419.0 99.5L420.0 101.3L421.0 103.4L422.0 105.8L423.0 108.1L424.0 110.0L425.0 110.9L426.0 110.5L427.0 109.2L428.0 107.3L429.0 105.5L430.0 103.9L431.0 102.6L432.0 101.7L433.0 101.3L434.0 101.3L435.0 101.7L436.0 102.6L437.0 103.9L438.0 105.6L439.0 107.7L440.0 110.0L441.0 112.4L442.0 114.4L443.0 115.5L444.0 115.4L445.0 114.2L446.0 112.5L447.0 110.6L448.0 108.9L449.0 107.5L450.0 106.6L451.0 106.1L452.0 106.0L453.0 106.3L454.0 107.1L455.0 108.3L456.0 110.0L457.0 112.0L458.0 114.3L459.0 116.7L460.0 118.8L461.0 120.1L462.0 120.3L463.0 119.3L464.0 117.6L465.0 115.7L466.0 113.9L467.0 112.5L468.0 111.5L469.0 110.9L470.0 110.7L471.0 111.0L472.0 111.6L473.0 112.8L474.0 114.3L475.0 116.3L476.0 118.5L477.0 120.9" fill="none" stroke="#1aab1a" stroke-width="1.25" stroke-linejoin="round"/>
<path d="M277.8 21.0C278.5 20.2 280.6 16.9 282.0 16.0C283.4 15.1 284.7 15.3 286.0 15.5C287.3 15.7 288.7 16.4 290.0 17.0C291.3 17.6 292.3 18.0 294.0 19.0C295.7 20.0 298.0 22.0 300.0 23.0C302.0 24.0 304.0 24.8 306.0 25.0C308.0 25.2 310.0 24.4 312.0 24.5C314.0 24.6 315.7 25.1 318.0 25.5C320.3 25.9 323.7 26.4 326.0 27.0C328.3 27.6 330.0 28.0 332.0 29.0C334.0 30.0 336.2 31.0 338.0 33.0C339.8 35.0 341.6 39.0 343.0 41.0C344.4 43.0 345.2 43.1 346.6 45.0C348.1 46.9 350.0 49.9 351.7 52.6C353.4 55.4 355.4 59.0 356.8 61.5C358.2 64.0 359.2 66.4 359.9 67.8C360.6 69.2 360.1 68.8 361.0 70.0C361.9 71.2 364.3 74.0 365.0 74.8L365.0 74.8L366.0 75.4L367.0 75.5L368.0 74.9L369.0 74.0L370.0 73.0L371.0 72.0L372.0 71.1L373.0 70.6L374.0 70.3L375.0 70.4L376.0 70.7L377.0 71.4L378.0 72.5L379.0 73.8L380.0 75.3L381.0 76.9L382.0 78.5L383.0 79.8L384.0 80.5L385.0 80.7L386.0 80.3L387.0 79.4L388.0 78.4L389.0 77.3L390.0 76.5L391.0 75.8L392.0 75.5L393.0 75.5L394.0 75.8L395.0 76.5L396.0 77.4L397.0 78.7L398.0 80.1L399.0 81.8L400.0 83.4L401.0 84.7L402.0 85.6L403.0 85.9L404.0 85.6L405.0 84.8L406.0 83.8L407.0 82.7L408.0 81.8L409.0 81.1L410.0 80.7L411.0 80.7L412.0 80.9L413.0 81.5L414.0 82.4L415.0 83.6L416.0 85.0L417.0 86.6L418.0 88.2L419.0 89.7L420.0 90.7L421.0 91.1L422.0 90.9L423.0 90.2L424.0 89.2L425.0 88.1L426.0 87.2L427.0 86.4L428.0 86.0L429.0 85.8L430.0 86.0L431.0 86.5L432.0 87.4L433.0 88.5L434.0 89.9L435.0 91.5L436.0 93.1L437.0 94.6L438.0 95.7L439.0 96.2L440.0 96.1L441.0 95.5L442.0 94.6L443.0 93.5L444.0 92.5L445.0 91.7L446.0 91.2L447.0 91.0L448.0 91.2L449.0 91.6L450.0 92.4L451.0 93.5L452.0 94.8L453.0 96.3L454.0 98.0L455.0 99.5L456.0 100.7L457.0 101.4L458.0 101.4L459.0 100.9L460.0 99.9L461.0 98.9L462.0 97.9L463.0 97.1L464.0 96.5L465.0 96.2L466.0 96.3L467.0 96.7L468.0 97.4L469.0 98.4L470.0 99.7L471.0 101.2L472.0 102.8L473.0 104.4L474.0 105.7L475.0 106.5L476.0 106.6L477.0 106.2" fill="none" stroke="#1aab1a" stroke-width="1.25" stroke-linejoin="round"/>
<path d="M524.3 37.7C524.4 35.9 524.5 30.1 525.0 26.6C525.5 23.1 526.1 19.6 527.2 16.6C528.3 13.7 529.8 10.8 531.6 8.9C533.5 7.0 536.3 5.7 538.3 5.5C540.3 5.3 542.0 6.3 543.8 7.8C545.6 9.3 547.4 11.8 549.3 14.4C551.1 17.0 552.9 20.4 554.9 23.3C556.9 26.2 559.3 29.3 561.5 32.1C563.7 34.9 566.0 37.5 568.2 39.9C570.4 42.3 572.6 44.9 574.8 46.5C577.0 48.1 579.6 49.0 581.5 49.8C583.4 50.5 584.1 50.2 585.9 51.0C587.7 51.8 589.9 53.2 592.5 54.3C595.1 55.4 598.1 56.8 601.4 57.6C604.7 58.5 610.2 59.0 612.5 59.4C614.8 59.8 610.9 59.2 615.0 59.9C619.1 60.5 629.8 62.2 637.2 63.3C644.6 64.4 651.9 65.6 659.3 66.6C666.7 67.6 674.1 68.7 681.5 69.5C688.9 70.3 697.0 71.2 703.6 71.7C710.2 72.2 718.4 72.6 721.4 72.8" fill="none" stroke="#1aab1a" stroke-width="1.3" stroke-linejoin="round"/>
<path d="M541.0 97.1C541.2 94.1 541.6 84.6 542.2 79.4C542.8 74.2 543.5 69.6 544.4 66.1C545.3 62.6 546.8 60.2 547.7 58.3C548.6 56.4 549.0 55.7 550.0 54.5C551.0 53.3 552.5 52.0 553.8 51.3C555.1 50.6 556.3 50.2 557.6 50.3C558.9 50.4 560.1 51.2 561.4 52.0C562.7 52.8 563.9 53.8 565.2 55.1C566.5 56.4 567.5 58.1 569.0 59.6C570.5 61.1 572.3 62.5 574.0 64.0C575.7 65.5 577.4 67.1 579.1 68.4C580.8 69.7 582.5 70.4 584.2 71.6C585.9 72.8 587.5 74.1 589.2 75.4C590.9 76.7 592.9 78.3 594.3 79.2C595.7 80.1 596.9 80.6 597.5 80.8C598.1 81.0 597.9 80.3 598.0 80.2L598.0 80.2L598.7 80.4L599.4 80.6L600.1 80.8L600.8 81.1L601.5 81.5L602.2 81.8L602.9 82.2L603.6 82.5L604.3 82.7L605.0 82.9L605.7 83.1L606.4 83.1L607.1 83.1L607.8 83.0L608.5 82.8L609.2 82.5L609.9 82.2L610.6 82.0L611.3 81.8L612.0 81.6L612.7 81.4L613.4 81.3L614.1 81.3L614.8 81.4L615.5 81.5L616.2 81.8L616.9 82.1L617.6 82.4L618.3 82.9L619.0 83.3L619.7 83.8L620.4 84.3L621.1 84.8L621.8 85.3L622.5 85.8L623.2 86.3L623.9 86.7L624.6 87.0L625.3 87.3L626.0 87.6L626.7 87.7L627.4 87.8L628.1 87.7L628.8 87.7L629.5 87.5L630.2 87.3L630.9 87.0L631.6 86.7L632.3 86.4L633.0 86.1L633.7 85.8L634.4 85.5L635.1 85.2L635.8 85.0L636.5 84.9L637.2 84.8L637.9 84.9L638.6 85.0L639.3 85.1L640.0 85.4L640.7 85.7L641.4 86.0L642.1 86.4L642.8 86.9L643.5 87.4L644.2 87.9L644.9 88.4L645.6 88.9L646.3 89.3L647.0 89.7L647.7 90.0L648.4 90.3L649.1 90.5L649.8 90.6L650.5 90.6L651.2 90.6L651.9 90.5L652.6 90.3L653.3 90.0L654.0 89.7L654.7 89.4L655.4 89.1L656.1 88.7L656.8 88.4L657.5 88.1L658.2 87.8L658.9 87.6L659.6 87.5L660.3 87.5L661.0 87.6L661.7 87.8L662.4 88.0L663.1 88.3L663.8 88.7L664.5 89.1L665.2 89.6L665.9 90.2L666.6 90.7L667.3 91.3L668.0 91.8L668.7 92.4L669.4 92.9L670.1 93.3L670.8 93.7L671.5 94.0L672.2 94.3L672.9 94.4L673.6 94.5L674.3 94.5L675.0 94.5L675.7 94.3L676.4 94.2L677.1 93.9L677.8 93.7L678.5 93.4L679.2 93.1L679.9 92.9L680.6 92.6L681.3 92.4L682.0 92.3L682.7 92.1L683.4 92.1L684.1 92.2L684.8 92.3L685.5 92.5L686.2 92.8L686.9 93.1L687.6 93.5L688.3 94.0L689.0 94.5L689.7 95.0L690.4 95.5L691.1 96.1L691.8 96.6L692.5 97.0L693.2 97.4L693.9 97.8L694.6 98.0L695.3 98.2L696.0 98.3L696.7 98.4L697.4 98.3L698.1 98.2L698.8 98.0L699.5 97.8L700.2 97.5L700.9 97.2L701.6 96.9L702.3 96.6L703.0 96.3L703.7 96.0L704.4 95.8L705.1 95.6L705.8 95.5L706.5 95.5L707.2 95.5L707.9 95.6L708.6 95.8L709.3 96.1L710.0 96.4L710.7 96.8L711.4 97.3L712.1 97.8L712.8 98.3L713.5 98.8L714.2 99.2L714.9 99.7L715.6 100.1L716.3 100.5L717.0 100.8L717.7 101.1L718.4 101.2L719.1 101.3L719.8 101.3L720.5 101.2L721.2 101.1" fill="none" stroke="#1aab1a" stroke-width="1.2" stroke-linejoin="round"/>
<path d="M555.9 113.2C556.0 109.4 556.3 96.3 556.6 90.4C556.9 84.5 557.2 81.3 557.5 78.0C557.8 74.7 557.8 73.0 558.2 70.3C558.6 67.5 559.4 63.7 560.1 61.5C560.9 59.3 561.6 58.0 562.7 57.0C563.8 56.0 565.0 55.9 566.5 55.8C568.0 55.7 569.8 55.9 571.5 56.4C573.2 56.9 574.9 57.6 576.6 58.9C578.3 60.2 579.9 62.1 581.6 64.0C583.3 65.9 585.0 68.3 586.7 70.3C588.4 72.3 590.1 74.3 591.8 76.0C593.5 77.7 595.8 79.5 596.8 80.2C597.8 80.9 597.8 80.2 598.0 80.2L598.0 80.2L598.7 80.2L599.4 80.3L600.1 80.3L600.8 80.4L601.5 80.5L602.2 80.6L602.9 80.9L603.6 81.2L604.3 81.5L605.0 82.0L605.7 82.5L606.4 83.0L607.1 83.6L607.8 84.2L608.5 84.6L609.2 85.0L609.9 85.2L610.6 85.4L611.3 85.5L612.0 85.6L612.7 85.5L613.4 85.4L614.1 85.2L614.8 85.0L615.5 84.7L616.2 84.5L616.9 84.2L617.6 84.0L618.3 83.8L619.0 83.6L619.7 83.4L620.4 83.3L621.1 83.3L621.8 83.4L622.5 83.6L623.2 83.9L623.9 84.2L624.6 84.6L625.3 85.0L626.0 85.5L626.7 86.0L627.4 86.5L628.1 87.0L628.8 87.5L629.5 88.0L630.2 88.3L630.9 88.7L631.6 88.9L632.3 89.1L633.0 89.2L633.7 89.1L634.4 89.1L635.1 88.9L635.8 88.7L636.5 88.4L637.2 88.1L637.9 87.8L638.6 87.5L639.3 87.2L640.0 86.9L640.7 86.6L641.4 86.4L642.1 86.3L642.8 86.3L643.5 86.3L644.2 86.4L644.9 86.6L645.6 86.9L646.3 87.2L647.0 87.6L647.7 88.1L648.4 88.6L649.1 89.1L649.8 89.6L650.5 90.0L651.2 90.5L651.9 90.9L652.6 91.2L653.3 91.5L654.0 91.6L654.7 91.7L655.4 91.7L656.1 91.7L656.8 91.5L657.5 91.3L658.2 91.0L658.9 90.7L659.6 90.5L660.3 90.2L661.0 89.9L661.7 89.7L662.4 89.5L663.1 89.3L663.8 89.2L664.5 89.2L665.2 89.3L665.9 89.4L666.6 89.7L667.3 90.0L668.0 90.4L668.7 90.8L669.4 91.3L670.1 91.8L670.8 92.4L671.5 93.0L672.2 93.5L672.9 94.0L673.6 94.5L674.3 94.9L675.0 95.3L675.7 95.6L676.4 95.8L677.1 95.9L677.8 95.9L678.5 95.9L679.2 95.7L679.9 95.6L680.6 95.3L681.3 95.1L682.0 94.7L682.7 94.4L683.4 94.1L684.1 93.9L684.8 93.7L685.5 93.5L686.2 93.4L686.9 93.4L687.6 93.5L688.3 93.6L689.0 93.9L689.7 94.2L690.4 94.6L691.1 95.0L691.8 95.5L692.5 96.0L693.2 96.5L693.9 97.1L694.6 97.6L695.3 98.0L696.0 98.4L696.7 98.8L697.4 99.1L698.1 99.3L698.8 99.4L699.5 99.4L700.2 99.3L700.9 99.2L701.6 99.0L702.3 98.8L703.0 98.5L703.7 98.2L704.4 97.8L705.1 97.5L705.8 97.2L706.5 96.9L707.2 96.7L707.9 96.6L708.6 96.5L709.3 96.6L710.0 96.7L710.7 96.8L711.4 97.1L712.1 97.4L712.8 97.8L713.5 98.3L714.2 98.8L714.9 99.3L715.6 99.8L716.3 100.3L717.0 100.7L717.7 101.1L718.4 101.5L719.1 101.8L719.8 102.0L720.5 102.1L721.2 102.1" fill="none" stroke="#1aab1a" stroke-width="1.2" stroke-linejoin="round"/>
<path d="M567.6 102.6C567.7 100.2 568.1 91.1 568.3 88.2C568.5 85.3 568.5 86.7 569.0 85.0C569.5 83.3 570.5 80.0 571.5 77.9C572.5 75.8 573.8 73.5 575.3 72.2C576.8 70.9 578.7 70.5 580.4 70.3C582.1 70.1 583.7 70.4 585.4 71.0C587.1 71.6 588.8 72.8 590.5 74.1C592.2 75.4 594.4 78.0 595.6 79.0C596.9 80.0 597.6 80.0 598.0 80.2L598.0 80.2L598.7 80.5L599.4 80.7L600.1 80.8L600.8 80.9L601.5 81.0L602.2 81.0L602.9 81.0L603.6 81.0L604.3 80.9L605.0 80.9L605.7 80.8L606.4 80.8L607.1 80.8L607.8 80.9L608.5 81.1L609.2 81.4L609.9 81.8L610.6 82.2L611.3 82.6L612.0 83.1L612.7 83.6L613.4 84.1L614.1 84.5L614.8 85.0L615.5 85.5L616.2 85.9L616.9 86.2L617.6 86.5L618.3 86.7L619.0 86.8L619.7 86.9L620.4 86.9L621.1 86.8L621.8 86.7L622.5 86.5L623.2 86.3L623.9 86.1L624.6 85.9L625.3 85.6L626.0 85.4L626.7 85.2L627.4 85.0L628.1 84.9L628.8 84.8L629.5 84.8L630.2 84.8L630.9 84.9L631.6 85.0L632.3 85.3L633.0 85.5L633.7 85.8L634.4 86.2L635.1 86.6L635.8 87.0L636.5 87.5L637.2 87.9L637.9 88.3L638.6 88.7L639.3 89.1L640.0 89.4L640.7 89.6L641.4 89.8L642.1 89.9L642.8 90.0L643.5 90.0L644.2 90.0L644.9 89.9L645.6 89.7L646.3 89.5L647.0 89.3L647.7 89.0L648.4 88.8L649.1 88.5L649.8 88.3L650.5 88.0L651.2 87.9L651.9 87.7L652.6 87.6L653.3 87.6L654.0 87.7L654.7 87.7L655.4 87.9L656.1 88.1L656.8 88.4L657.5 88.7L658.2 89.1L658.9 89.5L659.6 89.9L660.3 90.4L661.0 90.9L661.7 91.3L662.4 91.8L663.1 92.2L663.8 92.5L664.5 92.8L665.2 93.0L665.9 93.2L666.6 93.3L667.3 93.4L668.0 93.4L668.7 93.3L669.4 93.2L670.1 93.0L670.8 92.9L671.5 92.7L672.2 92.5L672.9 92.3L673.6 92.1L674.3 92.0L675.0 91.9L675.7 91.8L676.4 91.9L677.1 91.9L677.8 92.0L678.5 92.2L679.2 92.5L679.9 92.8L680.6 93.2L681.3 93.5L682.0 93.9L682.7 94.4L683.4 94.8L684.1 95.3L684.8 95.7L685.5 96.1L686.2 96.5L686.9 96.8L687.6 97.1L688.3 97.3L689.0 97.5L689.7 97.6L690.4 97.6L691.1 97.6L691.8 97.6L692.5 97.4L693.2 97.3L693.9 97.1L694.6 96.9L695.3 96.6L696.0 96.4L696.7 96.2L697.4 96.0L698.1 95.8L698.8 95.7L699.5 95.6L700.2 95.6L700.9 95.7L701.6 95.8L702.3 96.0L703.0 96.2L703.7 96.5L704.4 96.8L705.1 97.2L705.8 97.6L706.5 98.0L707.2 98.4L707.9 98.8L708.6 99.2L709.3 99.6L710.0 99.9L710.7 100.2L711.4 100.5L712.1 100.6L712.8 100.8L713.5 100.8L714.2 100.8L714.9 100.8L715.6 100.6L716.3 100.5L717.0 100.3L717.7 100.1L718.4 99.8L719.1 99.6L719.8 99.3L720.5 99.1L721.2 98.9" fill="none" stroke="#1aab1a" stroke-width="1.2" stroke-linejoin="round"/>
<path d="M575.4 118.0C575.6 114.9 576.0 104.6 576.5 99.3C577.0 94.0 577.6 89.3 578.7 86.0C579.8 82.7 581.4 80.8 583.1 79.4C584.8 78.0 586.7 77.5 588.7 77.6C590.7 77.7 593.8 79.4 595.3 79.8C596.8 80.2 597.5 80.1 598.0 80.2L598.0 80.2L598.7 80.5L599.4 80.8L600.1 81.1L600.8 81.5L601.5 82.0L602.2 82.4L602.9 82.8L603.6 83.1L604.3 83.4L605.0 83.7L605.7 83.8L606.4 83.9L607.1 83.8L607.8 83.7L608.5 83.4L609.2 83.1L609.9 82.9L610.6 82.6L611.3 82.4L612.0 82.2L612.7 82.2L613.4 82.1L614.1 82.2L614.8 82.4L615.5 82.7L616.2 83.0L616.9 83.4L617.6 83.9L618.3 84.4L619.0 84.9L619.7 85.4L620.4 86.0L621.1 86.5L621.8 87.0L622.5 87.5L623.2 87.9L623.9 88.3L624.6 88.5L625.3 88.7L626.0 88.8L626.7 88.8L627.4 88.7L628.1 88.6L628.8 88.3L629.5 88.1L630.2 87.7L630.9 87.4L631.6 87.1L632.3 86.7L633.0 86.4L633.7 86.1L634.4 85.9L635.1 85.7L635.8 85.7L636.5 85.7L637.2 85.8L637.9 85.9L638.6 86.2L639.3 86.5L640.0 86.9L640.7 87.4L641.4 87.9L642.1 88.4L642.8 88.9L643.5 89.4L644.2 89.9L644.9 90.4L645.6 90.8L646.3 91.1L647.0 91.4L647.7 91.5L648.4 91.6L649.1 91.6L649.8 91.5L650.5 91.4L651.2 91.1L651.9 90.9L652.6 90.5L653.3 90.2L654.0 89.8L654.7 89.4L655.4 89.1L656.1 88.8L656.8 88.5L657.5 88.3L658.2 88.2L658.9 88.2L659.6 88.3L660.3 88.5L661.0 88.8L661.7 89.2L662.4 89.7L663.1 90.2L663.8 90.7L664.5 91.3L665.2 91.9L665.9 92.5L666.6 93.0L667.3 93.6L668.0 94.1L668.7 94.5L669.4 94.8L670.1 95.0L670.8 95.2L671.5 95.3L672.2 95.3L672.9 95.2L673.6 95.0L674.3 94.8L675.0 94.6L675.7 94.3L676.4 94.0L677.1 93.7L677.8 93.4L678.5 93.1L679.2 92.9L679.9 92.8L680.6 92.8L681.3 92.8L682.0 92.9L682.7 93.0L683.4 93.3L684.1 93.6L684.8 94.0L685.5 94.5L686.2 95.0L686.9 95.5L687.6 96.1L688.3 96.6L689.0 97.1L689.7 97.6L690.4 98.1L691.1 98.5L691.8 98.8L692.5 99.0L693.2 99.1L693.9 99.2L694.6 99.1L695.3 99.0L696.0 98.8L696.7 98.6L697.4 98.3L698.1 98.0L698.8 97.6L699.5 97.3L700.2 97.0L700.9 96.7L701.6 96.4L702.3 96.3L703.0 96.2L703.7 96.1L704.4 96.2L705.1 96.3L705.8 96.5L706.5 96.8L707.2 97.2L707.9 97.6L708.6 98.1L709.3 98.6L710.0 99.1L710.7 99.7L711.4 100.2L712.1 100.7L712.8 101.1L713.5 101.5L714.2 101.8L714.9 102.0L715.6 102.1L716.3 102.1L717.0 102.1L717.7 102.0L718.4 101.8L719.1 101.5L719.8 101.2L720.5 100.9L721.2 100.5" fill="none" stroke="#1aab1a" stroke-width="1.2" stroke-linejoin="round"/>
<path d="M578.7 118.3C578.8 115.1 578.9 104.7 579.4 99.3C579.9 93.9 580.8 89.0 582.0 86.0C583.2 83.0 584.8 82.1 586.5 81.1C588.2 80.1 590.3 79.9 592.0 79.8C593.7 79.7 595.5 80.5 596.5 80.6C597.5 80.7 597.8 80.3 598.0 80.2L598.0 80.2L598.7 80.2L599.4 80.2L600.1 80.3L600.8 80.4L601.5 80.6L602.2 80.8L602.9 81.0L603.6 81.4L604.3 81.8L605.0 82.2L605.7 82.6L606.4 83.1L607.1 83.5L607.8 84.0L608.5 84.2L609.2 84.4L609.9 84.5L610.6 84.5L611.3 84.5L612.0 84.4L612.7 84.2L613.4 84.1L614.1 83.8L614.8 83.6L615.5 83.4L616.2 83.2L616.9 83.0L617.6 82.9L618.3 82.9L619.0 82.8L619.7 82.8L620.4 82.9L621.1 83.1L621.8 83.4L622.5 83.7L623.2 84.1L623.9 84.5L624.6 84.9L625.3 85.4L626.0 85.9L626.7 86.3L627.4 86.8L628.1 87.2L628.8 87.5L629.5 87.8L630.2 88.0L630.9 88.2L631.6 88.3L632.3 88.2L633.0 88.2L633.7 88.0L634.4 87.8L635.1 87.6L635.8 87.3L636.5 87.1L637.2 86.8L637.9 86.5L638.6 86.3L639.3 86.1L640.0 85.9L640.7 85.8L641.4 85.8L642.1 85.8L642.8 86.0L643.5 86.2L644.2 86.4L644.9 86.8L645.6 87.1L646.3 87.6L647.0 88.0L647.7 88.5L648.4 88.9L649.1 89.3L649.8 89.7L650.5 90.1L651.2 90.4L651.9 90.6L652.6 90.8L653.3 90.9L654.0 90.9L654.7 90.8L655.4 90.7L656.1 90.5L656.8 90.2L657.5 90.0L658.2 89.7L658.9 89.4L659.6 89.1L660.3 88.9L661.0 88.8L661.7 88.6L662.4 88.6L663.1 88.6L663.8 88.7L664.5 88.8L665.2 89.1L665.9 89.4L666.6 89.8L667.3 90.2L668.0 90.7L668.7 91.2L669.4 91.7L670.1 92.2L670.8 92.7L671.5 93.2L672.2 93.6L672.9 94.0L673.6 94.3L674.3 94.6L675.0 94.8L675.7 94.9L676.4 94.9L677.1 94.9L677.8 94.8L678.5 94.6L679.2 94.4L679.9 94.2L680.6 94.0L681.3 93.7L682.0 93.5L682.7 93.2L683.4 93.1L684.1 92.9L684.8 92.9L685.5 92.9L686.2 93.0L686.9 93.1L687.6 93.4L688.3 93.7L689.0 94.1L689.7 94.5L690.4 94.9L691.1 95.4L691.8 95.9L692.5 96.4L693.2 96.8L693.9 97.2L694.6 97.6L695.3 97.9L696.0 98.2L696.7 98.3L697.4 98.4L698.1 98.5L698.8 98.4L699.5 98.3L700.2 98.1L700.9 97.9L701.6 97.7L702.3 97.4L703.0 97.1L703.7 96.8L704.4 96.6L705.1 96.4L705.8 96.2L706.5 96.1L707.2 96.1L707.9 96.1L708.6 96.2L709.3 96.4L710.0 96.6L710.7 97.0L711.4 97.3L712.1 97.7L712.8 98.2L713.5 98.7L714.2 99.1L714.9 99.6L715.6 100.0L716.3 100.4L717.0 100.7L717.7 100.9L718.4 101.1L719.1 101.2L719.8 101.3L720.5 101.2L721.2 101.1" fill="none" stroke="#1aab1a" stroke-width="1.2" stroke-linejoin="round"/>
<path d="M34.5 243.0C34.6 239.2 34.8 227.2 35.0 220.0C35.2 212.8 35.6 204.7 36.0 200.0C36.4 195.3 36.7 193.8 37.6 192.0C38.5 190.2 40.1 190.2 41.4 189.5C42.7 188.8 43.9 188.1 45.2 187.5C46.5 186.9 47.7 186.2 49.0 186.2C50.3 186.2 51.3 186.6 52.8 187.5C54.3 188.4 56.6 190.2 57.8 191.5C59.0 192.8 58.6 194.0 60.0 195.0C61.4 196.0 63.6 196.8 66.1 197.5C68.6 198.2 72.3 198.2 75.1 199.5C77.8 200.8 80.1 203.0 82.6 205.5C85.1 208.0 87.3 211.2 90.1 214.5C92.8 217.8 96.1 221.8 99.1 225.0C102.1 228.2 105.1 231.2 108.1 234.0C111.1 236.8 114.4 239.4 117.2 241.5C120.0 243.6 122.0 245.6 125.0 246.6C128.0 247.6 131.9 246.8 135.3 247.6C138.7 248.4 140.5 250.5 145.6 251.7C150.7 252.9 159.2 253.7 166.1 254.8C172.9 255.9 179.8 257.3 186.7 258.3C193.5 259.3 199.4 260.0 207.2 261.0C215.0 262.0 229.3 263.6 233.7 264.1" fill="none" stroke="#ff8c1a" stroke-width="1.3" stroke-linejoin="round" stroke-dasharray="3.4 1.75"/>
<path d="M34.5 223.5C34.6 220.4 34.9 210.1 35.2 205.0C35.5 199.9 36.1 195.3 36.5 193.0C36.9 190.7 36.8 191.8 37.6 191.1C38.4 190.4 40.1 189.3 41.4 188.6C42.7 187.9 43.9 187.2 45.2 186.7C46.5 186.2 47.7 185.4 49.0 185.4C50.3 185.4 51.3 185.8 52.8 186.7C54.3 187.5 56.6 189.3 57.8 190.5C59.0 191.7 58.6 193.0 60.0 194.0C61.4 195.0 63.6 195.8 66.1 196.5C68.6 197.2 72.3 196.8 75.1 198.0C77.8 199.2 80.1 201.5 82.6 204.0C85.1 206.5 87.3 209.7 90.1 213.0C92.8 216.3 96.1 220.3 99.1 223.6C102.1 226.9 105.1 229.8 108.1 232.6C111.1 235.3 114.2 238.2 117.2 240.1C120.2 242.0 123.7 243.6 126.2 244.2C128.7 244.8 130.3 243.3 132.2 243.5C134.0 243.7 135.1 244.6 137.3 245.6C139.5 246.6 142.8 249.0 145.6 249.7C148.3 250.4 151.1 249.2 153.8 249.7C156.5 250.2 156.5 251.6 162.0 252.8C167.5 254.0 179.2 255.9 186.7 256.9C194.2 257.9 199.4 258.0 207.2 258.9C215.0 259.8 229.3 261.5 233.7 262.0" fill="none" stroke="#ff2a2a" stroke-width="1.3" stroke-linejoin="round" stroke-dasharray="3.4 1.75"/>
<path d="M36.6 287.0C36.6 279.2 36.6 254.5 36.6 240.0C36.6 225.5 36.6 208.3 36.8 200.0C36.9 191.7 37.1 192.0 37.5 190.0C37.9 188.0 38.5 187.7 39.0 188.0C39.5 188.3 40.1 192.3 40.5 192.0C40.9 191.7 41.1 189.1 41.5 186.0C41.9 182.9 42.3 173.9 42.7 173.4C43.1 172.9 43.4 180.9 43.8 183.0C44.2 185.1 44.3 185.8 45.2 186.2C46.1 186.6 47.7 185.2 49.0 185.2C50.3 185.2 51.3 185.3 52.8 186.0C54.3 186.7 56.6 188.3 57.8 189.5C59.0 190.7 58.6 192.0 60.0 193.0C61.4 194.0 63.6 194.8 66.1 195.5C68.6 196.2 72.0 196.2 75.1 197.5C78.2 198.8 81.8 200.6 84.6 203.0C87.4 205.4 89.3 208.7 92.1 212.0C94.8 215.3 98.1 219.3 101.1 222.6C104.1 225.9 107.1 228.8 110.1 231.6C113.1 234.3 116.2 237.2 119.2 239.1C122.2 241.0 125.7 242.7 128.2 243.2C130.7 243.7 132.3 241.8 134.2 242.0C136.0 242.2 137.4 243.4 139.3 244.6C141.2 245.8 143.2 248.3 145.6 249.0C148.0 249.7 151.1 248.0 153.8 248.5C156.5 249.0 156.5 250.5 162.0 251.8C167.5 253.1 179.2 255.3 186.7 256.4C194.2 257.5 199.4 257.8 207.2 258.6C215.0 259.5 229.3 261.0 233.7 261.5" fill="none" stroke="#3535ff" stroke-width="1.3" stroke-linejoin="round" stroke-dasharray="3.4 1.75"/>
<path d="M274.9 205.0C275.1 204.5 275.1 203.9 275.9 201.8C276.7 199.7 278.3 195.4 279.7 192.4C281.1 189.4 282.8 185.7 284.4 183.8C286.0 181.9 287.6 180.7 289.2 181.0C290.8 181.3 292.3 183.8 293.9 185.7C295.5 187.6 297.3 191.0 298.7 192.4C300.1 193.8 300.9 194.6 302.5 194.3C304.1 194.0 306.3 191.4 308.2 190.5C310.1 189.6 311.6 188.8 313.8 188.6C316.0 188.4 318.9 189.0 321.4 189.5C323.9 190.0 326.6 190.3 329.0 191.4C331.4 192.5 333.6 194.3 335.7 196.2C337.8 198.1 339.3 200.3 341.4 202.8C343.4 205.3 345.7 207.1 348.0 211.3C350.3 215.5 352.9 223.7 355.0 228.0C357.1 232.3 358.8 234.4 360.5 237.0C362.2 239.6 363.8 243.7 365.4 243.5C367.0 243.3 368.3 237.8 370.0 236.0C371.7 234.2 373.8 232.8 375.5 232.6C377.2 232.3 378.0 232.8 380.0 234.5C382.0 236.2 385.3 241.4 387.7 242.5C390.1 243.6 392.0 240.6 394.6 241.0C397.2 241.4 400.4 244.2 403.4 245.0C406.3 245.8 409.6 244.6 412.3 245.5C415.0 246.4 416.6 249.8 419.5 250.5C422.4 251.2 426.6 248.8 429.8 249.8C433.0 250.8 435.5 255.8 438.7 256.5C441.9 257.2 445.1 253.5 448.8 254.2C452.5 254.9 457.3 259.5 460.8 260.5C464.3 261.5 466.9 259.6 469.7 260.0C472.5 260.4 476.4 262.2 477.7 262.6" fill="none" stroke="#ff8c1a" stroke-width="1.3" stroke-linejoin="round" stroke-dasharray="3.4 1.75"/>
<path d="M275.0 193.0C275.1 192.6 275.1 192.0 275.9 190.5C276.7 189.0 278.4 185.4 279.7 183.8C281.0 182.2 282.1 181.6 283.5 181.0C284.9 180.4 286.6 179.5 288.2 180.0C289.8 180.5 291.4 182.4 293.0 183.8C294.6 185.2 296.1 187.7 297.7 188.6C299.3 189.5 300.8 189.7 302.5 189.5C304.2 189.3 306.3 188.0 308.2 187.6C310.1 187.2 311.6 186.8 313.8 187.0C316.0 187.2 318.9 187.9 321.4 188.6C323.9 189.3 326.8 190.3 329.0 191.4C331.2 192.5 332.8 193.5 334.7 195.2C336.6 196.9 338.5 199.3 340.4 201.8C342.3 204.3 343.9 206.0 346.1 210.4C348.3 214.8 351.4 223.6 353.6 228.1C355.8 232.6 357.5 234.8 359.5 237.6C361.5 240.4 363.4 244.5 365.4 244.7C367.4 244.9 369.6 240.2 371.4 238.8C373.2 237.4 374.5 236.6 376.1 236.4C377.7 236.2 379.0 236.2 380.9 237.7C382.8 239.2 385.1 244.4 387.7 245.5C390.3 246.6 393.7 244.0 396.6 244.4C399.6 244.8 402.4 247.0 405.4 247.7C408.3 248.4 411.7 247.9 414.3 248.8C416.9 249.7 418.4 252.6 421.0 253.2C423.6 253.8 426.9 251.2 429.8 252.1C432.8 253.0 435.4 257.9 438.7 258.8C442.0 259.7 446.1 256.5 449.8 257.2C453.5 257.9 457.5 262.2 460.8 263.2C464.1 264.2 466.9 262.8 469.7 263.2C472.5 263.6 476.4 265.2 477.7 265.6" fill="none" stroke="#ff2a2a" stroke-width="1.3" stroke-linejoin="round" stroke-dasharray="3.4 1.75"/>
<path d="M278.8 287.0C279.0 282.9 279.5 270.5 279.9 262.5C280.3 254.5 280.6 246.7 281.1 238.8C281.6 230.9 282.4 221.5 283.0 215.0C283.6 208.5 283.7 204.1 284.4 200.0C285.1 195.9 286.5 193.5 287.3 190.5C288.1 187.5 288.4 183.0 289.2 181.9C290.0 180.8 290.9 182.4 292.0 183.8C293.1 185.2 294.7 188.4 295.8 190.5C296.9 192.6 297.6 194.8 298.7 196.2C299.8 197.6 301.1 199.0 302.5 199.0C303.9 199.0 305.3 197.5 307.2 196.2C309.1 194.9 311.4 192.3 313.8 191.4C316.2 190.5 318.5 190.7 321.4 190.5C324.2 190.3 328.7 190.3 330.9 190.5C333.1 190.7 333.1 190.1 334.7 191.4C336.3 192.7 338.2 195.4 340.4 198.1C342.6 200.8 345.4 202.9 348.0 207.5C350.6 212.1 353.6 220.9 355.9 225.7C358.2 230.5 360.3 233.5 361.9 236.4C363.5 239.3 364.2 243.4 365.4 243.0C366.6 242.6 367.7 236.5 369.0 234.0C370.3 231.5 371.7 228.3 373.3 227.8C374.9 227.3 376.6 228.6 378.5 231.0C380.4 233.4 382.1 241.4 384.4 242.2C386.7 243.0 389.4 235.4 392.2 236.0C395.0 236.6 398.2 245.0 401.0 245.5C403.8 246.0 406.0 237.5 408.8 238.8C411.6 240.1 414.5 252.2 417.6 253.2C420.7 254.2 424.3 244.1 427.6 244.8C430.9 245.5 434.5 256.5 437.6 257.2C440.7 257.9 443.1 248.6 446.4 249.2C449.7 249.8 454.2 260.0 457.5 261.0C460.8 262.0 463.0 255.0 466.4 255.0C469.8 255.0 475.8 260.0 477.7 261.0" fill="none" stroke="#3535ff" stroke-width="1.3" stroke-linejoin="round" stroke-dasharray="3.4 1.75"/>
<path d="M526.3 287.0C526.3 282.5 526.4 268.3 526.5 260.0C526.6 251.7 526.3 242.0 527.0 237.0C527.7 232.0 529.4 231.8 530.7 229.9C532.0 228.0 533.5 226.6 534.9 225.6C536.3 224.6 537.5 223.9 539.2 224.2C540.9 224.4 542.8 225.7 544.9 227.1C547.0 228.5 549.1 231.6 552.0 232.8C554.9 234.0 558.7 233.9 562.0 234.2C565.3 234.5 568.7 234.7 572.0 234.7C575.3 234.7 579.0 233.8 581.9 234.2C584.8 234.6 586.5 235.8 589.1 237.0C591.7 238.2 594.3 240.0 597.6 241.3C600.9 242.6 606.1 244.1 609.0 245.0C611.9 245.9 612.9 246.5 615.0 246.5C617.1 246.5 619.0 244.9 621.6 245.2C624.2 245.5 627.5 247.8 630.5 248.5C633.5 249.2 636.1 249.2 639.4 249.6C642.7 250.0 646.7 249.8 650.4 250.7C654.1 251.6 658.2 254.4 661.5 255.0C664.8 255.6 667.1 253.4 670.4 254.0C673.7 254.6 678.2 258.1 681.5 258.5C684.8 258.9 687.3 255.9 690.3 256.3C693.2 256.7 696.2 260.0 699.2 260.7C702.2 261.4 704.3 260.0 708.0 260.4C711.7 260.8 719.2 262.7 721.4 263.2" fill="none" stroke="#ff8c1a" stroke-width="1.3" stroke-linejoin="round" stroke-dasharray="3.4 1.75"/>
<path d="M526.3 287.0C526.3 279.6 526.3 253.9 526.4 242.7C526.5 231.5 526.3 224.9 527.0 219.9C527.7 214.9 529.4 214.8 530.7 212.8C532.0 210.8 533.5 209.2 534.9 208.0C536.3 206.8 537.5 205.8 539.2 205.7C540.9 205.5 543.0 205.9 544.9 207.1C546.8 208.3 548.5 210.7 550.6 212.8C552.7 214.9 555.1 217.9 557.7 219.9C560.3 221.9 563.4 223.7 566.3 225.1C569.1 226.5 572.2 227.6 574.8 228.5C577.4 229.4 579.5 229.6 581.9 230.8C584.3 232.0 586.5 233.8 589.1 235.6C591.7 237.3 594.3 239.9 597.6 241.3C600.9 242.7 606.1 243.4 609.0 244.1C611.9 244.8 612.9 245.4 615.0 245.5C617.1 245.6 619.0 244.0 621.6 244.4C624.2 244.8 627.5 247.0 630.5 247.7C633.5 248.4 636.1 248.4 639.4 248.8C642.7 249.2 646.7 249.0 650.4 249.9C654.1 250.8 658.2 253.8 661.5 254.3C664.8 254.9 667.1 252.6 670.4 253.2C673.7 253.8 678.2 257.3 681.5 257.7C684.8 258.1 687.3 255.0 690.3 255.4C693.2 255.8 696.2 259.2 699.2 259.9C702.2 260.6 704.3 259.0 708.0 259.4C711.7 259.8 719.2 261.7 721.4 262.1" fill="none" stroke="#ff2a2a" stroke-width="1.3" stroke-linejoin="round" stroke-dasharray="3.4 1.75"/>
<path d="M578.2 287.0C578.4 283.4 578.7 271.0 579.1 265.5C579.5 260.0 579.8 257.4 580.5 254.1C581.2 250.8 582.0 247.5 583.4 245.6C584.8 243.7 586.7 243.1 589.1 242.7C591.5 242.3 594.3 242.8 597.6 243.3C600.9 243.8 606.1 245.3 609.0 245.6C611.9 245.9 612.6 245.3 614.7 245.0C616.8 244.7 619.0 243.5 621.6 244.0C624.2 244.5 627.5 247.2 630.5 248.0C633.5 248.8 636.1 248.3 639.4 248.5C642.7 248.7 647.6 248.6 650.4 249.0C653.2 249.4 654.1 249.9 656.0 251.0C657.9 252.1 659.8 255.2 661.5 255.5C663.2 255.8 664.5 253.5 666.0 253.0C667.5 252.5 668.7 252.2 670.4 252.5C672.1 252.8 674.1 253.9 676.0 255.0C677.9 256.1 679.8 258.8 681.5 259.0C683.2 259.2 684.5 257.2 686.0 256.5C687.5 255.8 688.8 254.9 690.3 255.0C691.8 255.1 693.5 256.0 695.0 257.0C696.5 258.0 697.0 260.6 699.2 261.0C701.4 261.4 704.3 259.4 708.0 259.6C711.7 259.9 719.2 262.0 721.4 262.5" fill="none" stroke="#3535ff" stroke-width="1.3" stroke-linejoin="round" stroke-dasharray="3.4 1.75"/>
<text x="187.23" y="28.66" style="font-family:'Liberation Serif',serif;font-weight:bold;font-size:8.18px;fill:#1a1a1a;stroke:#1a1a1a;stroke-width:0.2px">VE</text>
<text x="122.76" y="41.60" style="font-family:'Liberation Serif',serif;font-size:8.92px;fill:#1a1a1a;stroke:#1a1a1a;stroke-width:0.2px">0</text>
<text x="126.80" y="40.96" style="font-family:'Liberation Serif',serif;font-size:10.50px;fill:#1a1a1a;stroke:#1a1a1a;stroke-width:0.2px">→</text>
<text x="136.97" y="41.60" style="font-family:'Liberation Serif',serif;font-size:8.46px;fill:#1a1a1a;stroke:#1a1a1a;stroke-width:0.2px">1</text>
<text x="163.16" y="78.48" style="font-family:'Liberation Serif',serif;font-style:italic;font-size:7.20px;fill:#1a1a1a;stroke:#1a1a1a;stroke-width:0.2px">j</text>
<path d="M166.75 73.70L166.75 76.10M165.71 74.30L167.79 75.50M167.79 74.30L165.71 75.50" stroke="#333" stroke-width="0.6"/>
<path d="M170.40 76.05H174.20M170.40 77.15H174.20" stroke="#333" stroke-width="0.75"/>
<text x="175.47" y="78.90" style="font-family:'Liberation Serif',serif;font-size:8.15px;fill:#1a1a1a;stroke:#1a1a1a;stroke-width:0.2px">50</text>
<text x="144.28" y="104.68" style="font-family:'Liberation Serif',serif;font-style:italic;font-size:7.66px;fill:#1a1a1a;stroke:#1a1a1a;stroke-width:0.2px">j</text>
<path d="M147.80 99.80L147.80 102.10M146.80 100.38L148.80 101.53M148.80 100.38L146.80 101.53" stroke="#333" stroke-width="0.6"/>
<path d="M151.90 102.25H155.70M151.90 103.25H155.70" stroke="#333" stroke-width="0.75"/>
<text x="157.41" y="105.00" style="font-family:'Liberation Serif',serif;font-size:7.38px;fill:#1a1a1a;stroke:#1a1a1a;stroke-width:0.2px">0</text>
<text x="430.81" y="28.76" style="font-family:'Liberation Serif',serif;font-weight:bold;font-size:8.19px;fill:#1a1a1a;stroke:#1a1a1a;stroke-width:0.2px">DR</text>
<text x="375.95" y="41.60" style="font-family:'Liberation Serif',serif;font-style:italic;font-size:8.42px;fill:#1a1a1a;stroke:#1a1a1a;stroke-width:0.2px">v</text>
<path d="M381.50 36.25L381.50 38.65M380.46 36.85L382.54 38.05M382.54 36.85L380.46 38.05" stroke="#333" stroke-width="0.6"/>
<path d="M385.70 38.85H390.00M385.70 40.45H390.00" stroke="#333" stroke-width="0.75"/>
<text x="392.09" y="41.90" style="font-family:'Liberation Serif',serif;font-size:9.38px;fill:#1a1a1a;stroke:#1a1a1a;stroke-width:0.2px">0</text>
<text x="397.03" y="71.00" style="font-family:'Liberation Serif',serif;font-style:italic;font-size:7.54px;fill:#1a1a1a;stroke:#1a1a1a;stroke-width:0.2px">j</text>
<path d="M400.45 65.90L400.45 68.30M399.41 66.50L401.49 67.70M401.49 66.50L399.41 67.70" stroke="#333" stroke-width="0.6"/>
<path d="M404.20 68.45H408.20M404.20 69.55H408.20" stroke="#333" stroke-width="0.75"/>
<text x="409.53" y="70.90" style="font-family:'Liberation Serif',serif;font-size:7.85px;fill:#1a1a1a;stroke:#1a1a1a;stroke-width:0.2px">50</text>
<text x="388.13" y="108.53" style="font-family:'Liberation Serif',serif;font-style:italic;font-size:6.97px;fill:#1a1a1a;stroke:#1a1a1a;stroke-width:0.2px">j</text>
<path d="M391.70 104.10L391.70 106.50M390.66 104.70L392.74 105.90M392.74 104.70L390.66 105.90" stroke="#333" stroke-width="0.6"/>
<path d="M395.90 106.45H399.40M395.90 107.55H399.40" stroke="#333" stroke-width="0.75"/>
<text x="401.16" y="109.00" style="font-family:'Liberation Serif',serif;font-size:7.38px;fill:#1a1a1a;stroke:#1a1a1a;stroke-width:0.2px">0</text>
<text x="674.96" y="28.84" style="font-family:'Liberation Serif',serif;font-weight:bold;font-size:8.42px;fill:#1a1a1a;stroke:#1a1a1a;stroke-width:0.2px">DE</text>
<text x="619.60" y="41.60" style="font-family:'Liberation Serif',serif;font-style:italic;font-size:8.42px;fill:#1a1a1a;stroke:#1a1a1a;stroke-width:0.2px">v</text>
<path d="M625.15 36.50L625.15 38.50M624.28 37.00L626.02 38.00M626.02 37.00L624.28 38.00" stroke="#333" stroke-width="0.6"/>
<path d="M629.40 38.85H634.00M629.40 40.45H634.00" stroke="#333" stroke-width="0.75"/>
<text x="635.81" y="41.60" style="font-family:'Liberation Serif',serif;font-size:8.92px;fill:#1a1a1a;stroke:#1a1a1a;stroke-width:0.2px">0</text>
<text x="527.21" y="28.93" style="font-family:'Liberation Serif',serif;font-style:italic;font-size:7.89px;fill:#1a1a1a;stroke:#1a1a1a;stroke-width:0.2px">j</text>
<path d="M531.50 24.00L531.50 26.50M530.42 24.62L532.58 25.88M532.58 24.62L530.42 25.88" stroke="#333" stroke-width="0.6"/>
<path d="M536.20 25.55H540.20M536.20 26.95H540.20" stroke="#333" stroke-width="0.75"/>
<text x="542.78" y="28.90" style="font-family:'Liberation Serif',serif;font-size:8.92px;fill:#1a1a1a;stroke:#1a1a1a;stroke-width:0.2px">50</text>
<text x="584.05" y="116.75" style="font-family:'Liberation Serif',serif;font-style:italic;font-size:8.69px;fill:#1a1a1a;stroke:#1a1a1a;stroke-width:0.2px">j</text>
<path d="M588.35 110.90L588.35 113.50M587.22 111.55L589.48 112.85M589.48 111.55L587.22 112.85" stroke="#333" stroke-width="0.6"/>
<path d="M592.90 113.45H597.00M592.90 114.85H597.00" stroke="#333" stroke-width="0.75"/>
<text x="599.53" y="116.60" style="font-family:'Liberation Serif',serif;font-size:8.46px;fill:#1a1a1a;stroke:#1a1a1a;stroke-width:0.2px">0</text>
<text x="102.64" y="190.90" style="font-family:'Liberation Serif',serif;font-size:9.38px;fill:#1a1a1a;stroke:#1a1a1a;stroke-width:0.2px">0</text>
<text x="106.80" y="190.21" style="font-family:'Liberation Serif',serif;font-size:10.50px;fill:#1a1a1a;stroke:#1a1a1a;stroke-width:0.2px">→</text>
<text x="116.70" y="190.90" style="font-family:'Liberation Serif',serif;font-size:8.92px;fill:#1a1a1a;stroke:#1a1a1a;stroke-width:0.2px">1</text>
<text x="76.23" y="253.16" style="font-family:'Liberation Serif',serif;font-weight:bold;font-size:8.18px;fill:#1a1a1a;stroke:#1a1a1a;stroke-width:0.2px">VE</text>
<text x="355.40" y="190.90" style="font-family:'Liberation Serif',serif;font-style:italic;font-size:9.05px;fill:#1a1a1a;stroke:#1a1a1a;stroke-width:0.2px">v</text>
<path d="M361.35 185.50L361.35 187.90M360.31 186.10L362.39 187.30M362.39 186.10L360.31 187.30" stroke="#333" stroke-width="0.6"/>
<path d="M365.20 187.75H370.00M365.20 189.45H370.00" stroke="#333" stroke-width="0.75"/>
<text x="371.81" y="190.90" style="font-family:'Liberation Serif',serif;font-size:8.92px;fill:#1a1a1a;stroke:#1a1a1a;stroke-width:0.2px">0</text>
<text x="319.33" y="253.27" style="font-family:'Liberation Serif',serif;font-weight:bold;font-size:8.23px;fill:#1a1a1a;stroke:#1a1a1a;stroke-width:0.2px">DR</text>
<text x="589.05" y="190.90" style="font-family:'Liberation Serif',serif;font-style:italic;font-size:9.05px;fill:#1a1a1a;stroke:#1a1a1a;stroke-width:0.2px">v</text>
<path d="M594.85 185.00L594.85 187.70M593.68 185.67L596.02 187.03M596.02 185.67L593.68 187.03" stroke="#333" stroke-width="0.6"/>
<path d="M598.90 187.55H603.20M598.90 189.45H603.20" stroke="#333" stroke-width="0.75"/>
<text x="605.61" y="190.90" style="font-family:'Liberation Serif',serif;font-size:8.92px;fill:#1a1a1a;stroke:#1a1a1a;stroke-width:0.2px">0</text>
<text x="553.29" y="265.45" style="font-family:'Liberation Serif',serif;font-weight:bold;font-size:8.45px;fill:#1a1a1a;stroke:#1a1a1a;stroke-width:0.2px">DE</text>
<path d="M152.8 173.8h14.9" stroke="#3535ff" stroke-width="1.5" stroke-dasharray="3.5 2.2"/>
<text x="173.7" y="176.2" style="font-family:'Liberation Sans',sans-serif;font-size:6.75px;fill:#1a1a1a;stroke:#1a1a1a;stroke-width:0.15px"><tspan style="font-style:italic">T</tspan><tspan style="font-style:italic;font-size:4.9px" dy="1.1">r</tspan><tspan dy="-1.1"> = 100 K</tspan></text>
<path d="M152.8 186.7h14.9" stroke="#ff8c1a" stroke-width="1.5" stroke-dasharray="3.5 2.2"/>
<text x="173.7" y="189.1" style="font-family:'Liberation Sans',sans-serif;font-size:6.75px;fill:#1a1a1a;stroke:#1a1a1a;stroke-width:0.15px"><tspan style="font-style:italic">T</tspan><tspan style="font-style:italic;font-size:4.9px" dy="1.1">r</tspan><tspan dy="-1.1"> = 5000 K</tspan></text>
<path d="M152.8 199.5h14.9" stroke="#ff2a2a" stroke-width="1.5" stroke-dasharray="3.5 2.2"/>
<text x="173.7" y="201.9" style="font-family:'Liberation Sans',sans-serif;font-size:6.75px;fill:#1a1a1a;stroke:#1a1a1a;stroke-width:0.15px"><tspan style="font-style:italic">T</tspan><tspan style="font-style:italic;font-size:4.9px" dy="1.1">r</tspan><tspan dy="-1.1"> = 10000 K</tspan></text>
<path d="M396.8 173.8h14.9" stroke="#3535ff" stroke-width="1.5" stroke-dasharray="3.5 2.2"/>
<text x="417.7" y="176.2" style="font-family:'Liberation Sans',sans-serif;font-size:6.75px;fill:#1a1a1a;stroke:#1a1a1a;stroke-width:0.15px"><tspan style="font-style:italic">T</tspan><tspan style="font-style:italic;font-size:4.9px" dy="1.1">r</tspan><tspan dy="-1.1"> = 100 K</tspan></text>
<path d="M396.8 186.7h14.9" stroke="#ff8c1a" stroke-width="1.5" stroke-dasharray="3.5 2.2"/>
<text x="417.7" y="189.1" style="font-family:'Liberation Sans',sans-serif;font-size:6.75px;fill:#1a1a1a;stroke:#1a1a1a;stroke-width:0.15px"><tspan style="font-style:italic">T</tspan><tspan style="font-style:italic;font-size:4.9px" dy="1.1">r</tspan><tspan dy="-1.1"> = 5000 K</tspan></text>
<path d="M396.8 199.5h14.9" stroke="#ff2a2a" stroke-width="1.5" stroke-dasharray="3.5 2.2"/>
<text x="417.7" y="201.9" style="font-family:'Liberation Sans',sans-serif;font-size:6.75px;fill:#1a1a1a;stroke:#1a1a1a;stroke-width:0.15px"><tspan style="font-style:italic">T</tspan><tspan style="font-style:italic;font-size:4.9px" dy="1.1">r</tspan><tspan dy="-1.1"> = 10000 K</tspan></text>
<path d="M640.8 173.8h14.9" stroke="#3535ff" stroke-width="1.5" stroke-dasharray="3.5 2.2"/>
<text x="661.7" y="176.2" style="font-family:'Liberation Sans',sans-serif;font-size:6.75px;fill:#1a1a1a;stroke:#1a1a1a;stroke-width:0.15px"><tspan style="font-style:italic">T</tspan><tspan style="font-style:italic;font-size:4.9px" dy="1.1">r</tspan><tspan dy="-1.1"> = 100 K</tspan></text>
<path d="M640.8 186.7h14.9" stroke="#ff8c1a" stroke-width="1.5" stroke-dasharray="3.5 2.2"/>
<text x="661.7" y="189.1" style="font-family:'Liberation Sans',sans-serif;font-size:6.75px;fill:#1a1a1a;stroke:#1a1a1a;stroke-width:0.15px"><tspan style="font-style:italic">T</tspan><tspan style="font-style:italic;font-size:4.9px" dy="1.1">r</tspan><tspan dy="-1.1"> = 5000 K</tspan></text>
<path d="M640.8 199.5h14.9" stroke="#ff2a2a" stroke-width="1.5" stroke-dasharray="3.5 2.2"/>
<text x="661.7" y="201.9" style="font-family:'Liberation Sans',sans-serif;font-size:6.75px;fill:#1a1a1a;stroke:#1a1a1a;stroke-width:0.15px"><tspan style="font-style:italic">T</tspan><tspan style="font-style:italic;font-size:4.9px" dy="1.1">r</tspan><tspan dy="-1.1"> = 10000 K</tspan></text>
</svg>
</body></html>
